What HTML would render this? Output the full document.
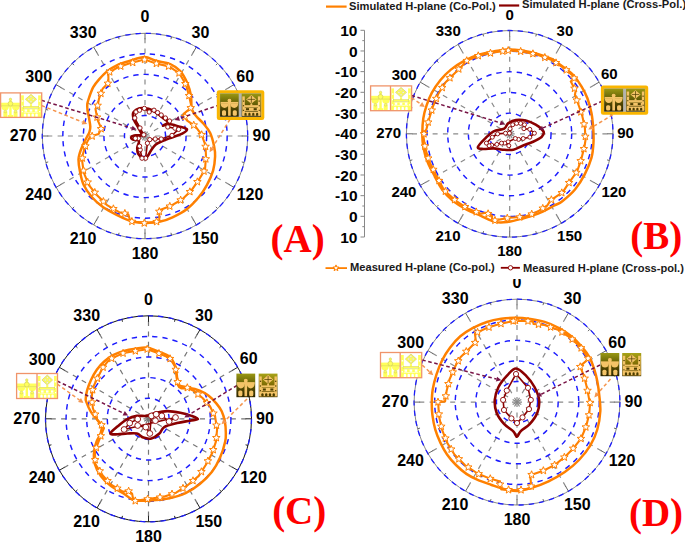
<!DOCTYPE html><html><head><meta charset="utf-8"><style>html,body{margin:0;padding:0;background:#fff;}svg{display:block;}</style></head><body>
<svg width="685" height="542" viewBox="0 0 685 542" font-family='"Liberation Sans", sans-serif' font-weight="bold">
<rect width="685" height="542" fill="#fff"/>
<line x1="145" y1="136" x2="145" y2="33.3" stroke="#8a8a8a" stroke-width="1.2" stroke-dasharray="5 5.3"/>
<line x1="145" y1="136" x2="196.35" y2="47.06" stroke="#8a8a8a" stroke-width="1.2" stroke-dasharray="5 5.3"/>
<line x1="145" y1="136" x2="233.94" y2="84.65" stroke="#8a8a8a" stroke-width="1.2" stroke-dasharray="5 5.3"/>
<line x1="145" y1="136" x2="247.7" y2="136" stroke="#8a8a8a" stroke-width="1.2" stroke-dasharray="5 5.3"/>
<line x1="145" y1="136" x2="233.94" y2="187.35" stroke="#8a8a8a" stroke-width="1.2" stroke-dasharray="5 5.3"/>
<line x1="145" y1="136" x2="196.35" y2="224.94" stroke="#8a8a8a" stroke-width="1.2" stroke-dasharray="5 5.3"/>
<line x1="145" y1="136" x2="145" y2="238.7" stroke="#8a8a8a" stroke-width="1.2" stroke-dasharray="5 5.3"/>
<line x1="145" y1="136" x2="93.65" y2="224.94" stroke="#8a8a8a" stroke-width="1.2" stroke-dasharray="5 5.3"/>
<line x1="145" y1="136" x2="56.06" y2="187.35" stroke="#8a8a8a" stroke-width="1.2" stroke-dasharray="5 5.3"/>
<line x1="145" y1="136" x2="42.3" y2="136" stroke="#8a8a8a" stroke-width="1.2" stroke-dasharray="5 5.3"/>
<line x1="145" y1="136" x2="56.06" y2="84.65" stroke="#8a8a8a" stroke-width="1.2" stroke-dasharray="5 5.3"/>
<line x1="145" y1="136" x2="93.65" y2="47.06" stroke="#8a8a8a" stroke-width="1.2" stroke-dasharray="5 5.3"/>
<circle cx="145" cy="136" r="20.54" fill="none" stroke="#1c1cff" stroke-width="1.45" stroke-dasharray="5.3 5"/>
<circle cx="145" cy="136" r="41.08" fill="none" stroke="#1c1cff" stroke-width="1.45" stroke-dasharray="5.3 5"/>
<circle cx="145" cy="136" r="61.62" fill="none" stroke="#1c1cff" stroke-width="1.45" stroke-dasharray="5.3 5"/>
<circle cx="145" cy="136" r="82.16" fill="none" stroke="#1c1cff" stroke-width="1.45" stroke-dasharray="5.3 5"/>
<circle cx="145" cy="136" r="102.7" fill="none" stroke="#888" stroke-width="1"/>
<circle cx="145" cy="136" r="102.7" fill="none" stroke="#1c1cff" stroke-width="1.3" stroke-dasharray="5.3 5"/>
<line x1="145" y1="33.3" x2="145" y2="39.3" stroke="#666" stroke-width="1"/>
<line x1="171.58" y1="36.8" x2="170.93" y2="39.21" stroke="#666" stroke-width="1"/>
<line x1="196.35" y1="47.06" x2="193.35" y2="52.26" stroke="#666" stroke-width="1"/>
<line x1="217.62" y1="63.38" x2="215.85" y2="65.15" stroke="#666" stroke-width="1"/>
<line x1="233.94" y1="84.65" x2="228.74" y2="87.65" stroke="#666" stroke-width="1"/>
<line x1="244.2" y1="109.42" x2="241.79" y2="110.07" stroke="#666" stroke-width="1"/>
<line x1="247.7" y1="136" x2="241.7" y2="136" stroke="#666" stroke-width="1"/>
<line x1="244.2" y1="162.58" x2="241.79" y2="161.93" stroke="#666" stroke-width="1"/>
<line x1="233.94" y1="187.35" x2="228.74" y2="184.35" stroke="#666" stroke-width="1"/>
<line x1="217.62" y1="208.62" x2="215.85" y2="206.85" stroke="#666" stroke-width="1"/>
<line x1="196.35" y1="224.94" x2="193.35" y2="219.74" stroke="#666" stroke-width="1"/>
<line x1="171.58" y1="235.2" x2="170.93" y2="232.79" stroke="#666" stroke-width="1"/>
<line x1="145" y1="238.7" x2="145" y2="232.7" stroke="#666" stroke-width="1"/>
<line x1="118.42" y1="235.2" x2="119.07" y2="232.79" stroke="#666" stroke-width="1"/>
<line x1="93.65" y1="224.94" x2="96.65" y2="219.74" stroke="#666" stroke-width="1"/>
<line x1="72.38" y1="208.62" x2="74.15" y2="206.85" stroke="#666" stroke-width="1"/>
<line x1="56.06" y1="187.35" x2="61.26" y2="184.35" stroke="#666" stroke-width="1"/>
<line x1="45.8" y1="162.58" x2="48.21" y2="161.93" stroke="#666" stroke-width="1"/>
<line x1="42.3" y1="136" x2="48.3" y2="136" stroke="#666" stroke-width="1"/>
<line x1="45.8" y1="109.42" x2="48.21" y2="110.07" stroke="#666" stroke-width="1"/>
<line x1="56.06" y1="84.65" x2="61.26" y2="87.65" stroke="#666" stroke-width="1"/>
<line x1="72.38" y1="63.38" x2="74.15" y2="65.15" stroke="#666" stroke-width="1"/>
<line x1="93.65" y1="47.06" x2="96.65" y2="52.26" stroke="#666" stroke-width="1"/>
<line x1="118.42" y1="36.8" x2="119.07" y2="39.21" stroke="#666" stroke-width="1"/>
<path d="M144.5,57 C148.95,56.97 151.83,59.62 156.11,60.79 C160.4,61.97 166.17,62.34 170.2,64.07 C174.24,65.79 177.46,67.93 180.31,71.13 C183.17,74.33 185.55,79.22 187.32,83.27 C189.1,87.31 190.27,91.71 190.95,95.4 C191.63,99.09 191.18,102.88 191.4,105.4 C191.62,107.92 191.45,108.65 192.3,110.5 C193.15,112.35 194.58,114.25 196.5,116.5 C198.42,118.75 201.52,121.25 203.8,124 C206.08,126.75 208.48,129.3 210.2,133 C211.92,136.7 213.28,142.3 214.1,146.2 C214.92,150.1 215.27,152.33 215.1,156.4 C214.93,160.47 214.45,165.87 213.1,170.6 C211.75,175.33 209.37,180.4 207,184.8 C204.63,189.2 202.28,192.93 198.9,197 C195.52,201.07 191.1,205.82 186.7,209.2 C182.3,212.58 176.9,215.23 172.5,217.3 C168.1,219.37 164.88,220.68 160.3,221.6 C155.72,222.52 149.83,222.85 145,222.8 C140.17,222.75 135.95,222.57 131.3,221.3 C126.65,220.03 121.83,217.57 117.1,215.2 C112.37,212.83 107.12,210.13 102.9,207.1 C98.68,204.07 95.02,200.72 91.8,197 C88.58,193.28 85.6,189.2 83.6,184.8 C81.6,180.4 80.65,174.77 79.8,170.6 C78.95,166.43 78.52,162.68 78.5,159.8 C78.48,156.92 79.12,155.45 79.7,153.3 C80.28,151.15 81.17,148.9 82,146.9 C82.83,144.9 83.87,143 84.7,141.3 C85.53,139.6 86.22,138.23 87,136.7 C87.78,135.17 88.85,133.78 89.4,132.1 C89.95,130.42 90.38,129.05 90.3,126.6 C90.22,124.15 89.37,120.17 88.9,117.4 C88.43,114.63 87.77,112.23 87.5,110 C87.23,107.77 87.02,106.11 87.3,104 C87.58,101.89 88.2,100.14 89.19,97.34 C90.18,94.54 91.56,90.24 93.24,87.21 C94.92,84.18 96.93,81.85 99.28,79.17 C101.62,76.49 104.29,73.47 107.3,71.12 C110.31,68.77 113.63,66.75 117.32,65.06 C121,63.37 124.89,62.33 129.42,60.99 C133.95,59.64 140.06,57.03 144.5,57Z" fill="none" stroke="#ff8000" stroke-width="2.5" stroke-linejoin="round"/>
<path d="M144.52,59.6 L155.62,63.37 L169.15,66.46 L179.35,73.28 L186.07,85.02 L189.26,96.73 L191.2,105.4 L190.7,108.1 L183.6,113.9 L186.8,120.4 L195.2,126.2 L201.6,134.6 L205.5,145.5 L206,156.4 L205,169.6 L198.9,179.7 L191.8,189.9 L182.6,199 L170.4,206.1 L159.3,210.2 L159.3,221.3 L146,223.4 L130.3,221.3 L128.3,214.2 L119.2,212.2 L107,205.1 L96.8,195 L88.7,184.8 L83.8,172.6 L82,159.8 L82.9,154.2 L84.7,147.8 L87,142.3 L89.8,137.2 L93,135.8 L98.6,134 L101.3,128.4 L97.6,120.1 L96.7,115.5 L95.5,109 L97.68,105.41 L98.93,98.93 L102.64,88.74 L108.47,82.84 L108.31,72.85 L117.95,67.22 L129.83,63.35Z" fill="none" stroke="#ff8000" stroke-width="2.1" stroke-linejoin="round"/>
<polygon points="144.52,55.6 145.53,58.21 148.32,58.36 146.15,60.13 146.87,62.84 144.52,61.32 142.17,62.84 142.88,60.13 140.71,58.36 143.51,58.21" fill="#fff" stroke="#ff8000" stroke-width="1"/>
<polygon points="156.37,59.54 157.38,62.15 160.18,62.31 158.01,64.08 158.73,66.78 156.37,65.26 154.02,66.78 154.74,64.08 152.57,62.31 155.36,62.15" fill="#fff" stroke="#ff8000" stroke-width="1"/>
<polygon points="168.56,62.32 169.57,64.93 172.37,65.09 170.2,66.85 170.91,69.56 168.56,68.04 166.21,69.56 166.93,66.85 164.76,65.09 167.55,64.93" fill="#fff" stroke="#ff8000" stroke-width="1"/>
<polygon points="179.04,69.07 180.05,71.68 182.84,71.83 180.67,73.6 181.39,76.31 179.04,74.79 176.69,76.31 177.4,73.6 175.23,71.83 178.03,71.68" fill="#fff" stroke="#ff8000" stroke-width="1"/>
<polygon points="185.37,79.8 186.38,82.41 189.17,82.57 187.01,84.34 187.72,87.04 185.37,85.52 183.02,87.04 183.73,84.34 181.57,82.57 184.36,82.41" fill="#fff" stroke="#ff8000" stroke-width="1"/>
<polygon points="188.98,91.73 189.99,94.34 192.79,94.49 190.62,96.26 191.33,98.96 188.98,97.45 186.63,98.96 187.35,96.26 185.18,94.49 187.97,94.34" fill="#fff" stroke="#ff8000" stroke-width="1"/>
<polygon points="190.73,103.93 191.74,106.54 194.54,106.7 192.37,108.47 193.08,111.17 190.73,109.65 188.38,111.17 189.09,108.47 186.93,106.7 189.72,106.54" fill="#fff" stroke="#ff8000" stroke-width="1"/>
<polygon points="185,112.74 186.01,115.35 188.8,115.5 186.63,117.27 187.35,119.97 185,118.46 182.65,119.97 183.36,117.27 181.19,115.5 183.99,115.35" fill="#fff" stroke="#ff8000" stroke-width="1"/>
<polygon points="193.73,121.18 194.74,123.79 197.53,123.95 195.36,125.71 196.08,128.42 193.73,126.9 191.38,128.42 192.09,125.71 189.92,123.95 192.72,123.79" fill="#fff" stroke="#ff8000" stroke-width="1"/>
<polygon points="201.65,130.74 202.66,133.35 205.45,133.51 203.29,135.27 204,137.98 201.65,136.46 199.3,137.98 200.01,135.27 197.85,133.51 200.64,133.35" fill="#fff" stroke="#ff8000" stroke-width="1"/>
<polygon points="205.55,142.57 206.56,145.18 209.35,145.34 207.18,147.1 207.9,149.81 205.55,148.29 203.2,149.81 203.91,147.1 201.74,145.34 204.54,145.18" fill="#fff" stroke="#ff8000" stroke-width="1"/>
<polygon points="205.8,155.05 206.81,157.66 209.6,157.82 207.43,159.59 208.15,162.29 205.8,160.77 203.45,162.29 204.16,159.59 201.99,157.82 204.79,157.66" fill="#fff" stroke="#ff8000" stroke-width="1"/>
<polygon points="204.01,167.25 205.02,169.86 207.81,170.01 205.64,171.78 206.36,174.48 204.01,172.97 201.65,174.48 202.37,171.78 200.2,170.01 202.99,169.86" fill="#fff" stroke="#ff8000" stroke-width="1"/>
<polygon points="197.4,177.85 198.41,180.46 201.2,180.62 199.04,182.39 199.75,185.09 197.4,183.57 195.05,185.09 195.76,182.39 193.6,180.62 196.39,180.46" fill="#fff" stroke="#ff8000" stroke-width="1"/>
<polygon points="189.88,187.8 190.89,190.41 193.69,190.56 191.52,192.33 192.23,195.03 189.88,193.52 187.53,195.03 188.25,192.33 186.08,190.56 188.87,190.41" fill="#fff" stroke="#ff8000" stroke-width="1"/>
<polygon points="180.65,196.14 181.66,198.74 184.45,198.9 182.29,200.67 183,203.37 180.65,201.86 178.3,203.37 179.01,200.67 176.85,198.9 179.64,198.74" fill="#fff" stroke="#ff8000" stroke-width="1"/>
<polygon points="169.8,202.32 170.81,204.93 173.6,205.09 171.43,206.85 172.15,209.56 169.8,208.04 167.45,209.56 168.16,206.85 165.99,205.09 168.79,204.93" fill="#fff" stroke="#ff8000" stroke-width="1"/>
<polygon points="159.3,207.51 160.31,210.12 163.1,210.27 160.94,212.04 161.65,214.74 159.3,213.23 156.95,214.74 157.66,212.04 155.5,210.27 158.29,210.12" fill="#fff" stroke="#ff8000" stroke-width="1"/>
<polygon points="156.63,217.72 157.64,220.33 160.43,220.49 158.26,222.25 158.98,224.96 156.63,223.44 154.27,224.96 154.99,222.25 152.82,220.49 155.61,220.33" fill="#fff" stroke="#ff8000" stroke-width="1"/>
<polygon points="144.27,219.17 145.28,221.78 148.08,221.93 145.91,223.7 146.62,226.4 144.27,224.89 141.92,226.4 142.64,223.7 140.47,221.93 143.26,221.78" fill="#fff" stroke="#ff8000" stroke-width="1"/>
<polygon points="131.88,217.51 132.89,220.12 135.69,220.28 133.52,222.04 134.23,224.75 131.88,223.23 129.53,224.75 130.25,222.04 128.08,220.28 130.87,220.12" fill="#fff" stroke="#ff8000" stroke-width="1"/>
<polygon points="124.86,209.44 125.87,212.05 128.66,212.21 126.49,213.97 127.21,216.68 124.86,215.16 122.5,216.68 123.22,213.97 121.05,212.21 123.84,212.05" fill="#fff" stroke="#ff8000" stroke-width="1"/>
<polygon points="113.4,204.82 114.41,207.43 117.2,207.59 115.04,209.36 115.75,212.06 113.4,210.54 111.05,212.06 111.76,209.36 109.6,207.59 112.39,207.43" fill="#fff" stroke="#ff8000" stroke-width="1"/>
<polygon points="103.38,197.52 104.39,200.12 107.18,200.28 105.02,202.05 105.73,204.75 103.38,203.24 101.03,204.75 101.74,202.05 99.58,200.28 102.37,200.12" fill="#fff" stroke="#ff8000" stroke-width="1"/>
<polygon points="94.79,188.46 95.8,191.07 98.59,191.23 96.42,192.99 97.14,195.7 94.79,194.18 92.43,195.7 93.15,192.99 90.98,191.23 93.77,191.07" fill="#fff" stroke="#ff8000" stroke-width="1"/>
<polygon points="87.69,178.28 88.7,180.89 91.49,181.04 89.32,182.81 90.04,185.52 87.69,184 85.34,185.52 86.05,182.81 83.88,181.04 86.68,180.89" fill="#fff" stroke="#ff8000" stroke-width="1"/>
<polygon points="83.51,166.55 84.52,169.16 87.32,169.32 85.15,171.08 85.86,173.79 83.51,172.27 81.16,173.79 81.88,171.08 79.71,169.32 82.5,169.16" fill="#fff" stroke="#ff8000" stroke-width="1"/>
<polygon points="82.26,154.18 83.27,156.79 86.06,156.94 83.9,158.71 84.61,161.42 82.26,159.9 79.91,161.42 80.62,158.71 78.46,156.94 81.25,156.79" fill="#fff" stroke="#ff8000" stroke-width="1"/>
<polygon points="85.4,142.12 86.41,144.73 89.21,144.88 87.04,146.65 87.75,149.36 85.4,147.84 83.05,149.36 83.77,146.65 81.6,144.88 84.39,144.73" fill="#fff" stroke="#ff8000" stroke-width="1"/>
<polygon points="92.13,132.18 93.14,134.79 95.93,134.95 93.76,136.71 94.48,139.42 92.13,137.9 89.78,139.42 90.49,136.71 88.32,134.95 91.12,134.79" fill="#fff" stroke="#ff8000" stroke-width="1"/>
<polygon points="101.06,124.9 102.07,127.5 104.87,127.66 102.7,129.43 103.41,132.13 101.06,130.62 98.71,132.13 99.43,129.43 97.26,127.66 100.05,127.5" fill="#fff" stroke="#ff8000" stroke-width="1"/>
<polygon points="97.05,113.29 98.06,115.9 100.85,116.05 98.69,117.82 99.4,120.53 97.05,119.01 94.7,120.53 95.41,117.82 93.25,116.05 96.04,115.9" fill="#fff" stroke="#ff8000" stroke-width="1"/>
<polygon points="97.61,101.53 98.62,104.14 101.42,104.29 99.25,106.06 99.96,108.76 97.61,107.25 95.26,108.76 95.98,106.06 93.81,104.29 96.6,104.14" fill="#fff" stroke="#ff8000" stroke-width="1"/>
<polygon points="100.9,89.51 101.91,92.12 104.7,92.28 102.53,94.04 103.25,96.75 100.9,95.23 98.55,96.75 99.26,94.04 97.09,92.28 99.89,92.12" fill="#fff" stroke="#ff8000" stroke-width="1"/>
<polygon points="107.86,79.47 108.87,82.07 111.66,82.23 109.49,84 110.21,86.7 107.86,85.19 105.5,86.7 106.22,84 104.05,82.23 106.84,82.07" fill="#fff" stroke="#ff8000" stroke-width="1"/>
<polygon points="109.71,68.03 110.72,70.64 113.52,70.79 111.35,72.56 112.06,75.26 109.71,73.75 107.36,75.26 108.08,72.56 105.91,70.79 108.7,70.64" fill="#fff" stroke="#ff8000" stroke-width="1"/>
<polygon points="120.77,62.3 121.78,64.91 124.57,65.07 122.4,66.83 123.12,69.54 120.77,68.02 118.41,69.54 119.13,66.83 116.96,65.07 119.75,64.91" fill="#fff" stroke="#ff8000" stroke-width="1"/>
<polygon points="132.7,58.61 133.71,61.22 136.51,61.38 134.34,63.14 135.05,65.85 132.7,64.33 130.35,65.85 131.07,63.14 128.9,61.38 131.69,61.22" fill="#fff" stroke="#ff8000" stroke-width="1"/>
<path d="M133.6,112 C134.6,110.8 137.1,109 139,108.4 C140.9,107.8 143,108.2 145,108.4 C147,108.6 149,108.8 151,109.6 C153,110.4 155,111.8 157,113.2 C159,114.6 161.2,116.5 163,118 C164.8,119.5 167.8,120.9 167.8,122.2 C167.8,123.5 162.8,125.5 163,125.8 C163.2,126.1 166.4,123.9 169,124 C171.6,124.1 175.6,125.5 178.6,126.4 C181.6,127.3 186.4,128.2 187,129.4 C187.6,130.6 184.6,132.3 182.2,133.6 C179.8,134.9 175.8,136 172.6,137.2 C169.4,138.4 165.8,139.6 163,140.8 C160.2,142 157.8,142.8 155.8,144.4 C153.8,146 152.4,148.4 151,150.4 C149.6,152.4 148.8,155.2 147.4,156.4 C146,157.6 144.1,158 142.6,157.6 C141.1,157.2 139.3,155.6 138.4,154 C137.5,152.4 137.1,150.2 137.2,148 C137.3,145.8 139.7,142.2 139,140.8 C138.3,139.4 134.3,140.2 133,139.6 C131.7,139 131,137.9 131.2,137.2 C131.4,136.5 132.5,135.8 134.2,135.4 C135.9,135 140.6,135.9 141.4,134.8 C142.2,133.7 140.2,131.2 139,128.8 C137.8,126.4 135.2,122.6 134.2,120.4 C133.2,118.2 133.1,117 133,115.6 C132.9,114.2 132.6,113.2 133.6,112Z" fill="none" stroke="#8a0000" stroke-width="2.6" stroke-linejoin="round"/>
<path d="M134.8,118 L136,112 L139.6,110.2 L144.4,108.4 L149.2,112 L154,110.2 L157.6,112.6 L161.2,115 L165.4,118 L169.6,121 L167.8,127 L175,128.2 L178.6,129.4 L172,135.4 L161.2,139 L155.2,139 L149.8,139.6 L147.4,143.2 L145.6,158.2 L142,158.2 L140.2,149.8 L139.6,146.2 L138.4,138.4 L135.4,138.4 L143.8,134.8 L140,128Z" fill="none" stroke="#8a0000" stroke-width="1.6"/>
<circle cx="134.8" cy="118" r="2.15" fill="#fff" stroke="#8a0000" stroke-width="0.9"/>
<circle cx="136" cy="112" r="2.15" fill="#fff" stroke="#8a0000" stroke-width="0.9"/>
<circle cx="139.6" cy="110.2" r="2.15" fill="#fff" stroke="#8a0000" stroke-width="0.9"/>
<circle cx="144.4" cy="108.4" r="2.15" fill="#fff" stroke="#8a0000" stroke-width="0.9"/>
<circle cx="149.2" cy="112" r="2.15" fill="#fff" stroke="#8a0000" stroke-width="0.9"/>
<circle cx="154" cy="110.2" r="2.15" fill="#fff" stroke="#8a0000" stroke-width="0.9"/>
<circle cx="157.6" cy="112.6" r="2.15" fill="#fff" stroke="#8a0000" stroke-width="0.9"/>
<circle cx="161.2" cy="115" r="2.15" fill="#fff" stroke="#8a0000" stroke-width="0.9"/>
<circle cx="165.4" cy="118" r="2.15" fill="#fff" stroke="#8a0000" stroke-width="0.9"/>
<circle cx="169.6" cy="121" r="2.15" fill="#fff" stroke="#8a0000" stroke-width="0.9"/>
<circle cx="167.8" cy="127" r="2.15" fill="#fff" stroke="#8a0000" stroke-width="0.9"/>
<circle cx="175" cy="128.2" r="2.15" fill="#fff" stroke="#8a0000" stroke-width="0.9"/>
<circle cx="178.6" cy="129.4" r="2.15" fill="#fff" stroke="#8a0000" stroke-width="0.9"/>
<circle cx="172" cy="135.4" r="2.15" fill="#fff" stroke="#8a0000" stroke-width="0.9"/>
<circle cx="161.2" cy="139" r="2.15" fill="#fff" stroke="#8a0000" stroke-width="0.9"/>
<circle cx="155.2" cy="139" r="2.15" fill="#fff" stroke="#8a0000" stroke-width="0.9"/>
<circle cx="149.8" cy="139.6" r="2.15" fill="#fff" stroke="#8a0000" stroke-width="0.9"/>
<circle cx="147.4" cy="143.2" r="2.15" fill="#fff" stroke="#8a0000" stroke-width="0.9"/>
<circle cx="145.6" cy="158.2" r="2.15" fill="#fff" stroke="#8a0000" stroke-width="0.9"/>
<circle cx="142" cy="158.2" r="2.15" fill="#fff" stroke="#8a0000" stroke-width="0.9"/>
<circle cx="140.2" cy="149.8" r="2.15" fill="#fff" stroke="#8a0000" stroke-width="0.9"/>
<circle cx="139.6" cy="146.2" r="2.15" fill="#fff" stroke="#8a0000" stroke-width="0.9"/>
<circle cx="138.4" cy="138.4" r="2.15" fill="#fff" stroke="#8a0000" stroke-width="0.9"/>
<circle cx="135.4" cy="138.4" r="2.15" fill="#fff" stroke="#8a0000" stroke-width="0.9"/>
<circle cx="143.8" cy="134.8" r="2.15" fill="#fff" stroke="#8a0000" stroke-width="0.9"/>
<circle cx="140" cy="128" r="2.15" fill="#fff" stroke="#8a0000" stroke-width="0.9"/>
<line x1="509.7" y1="133.8" x2="509.7" y2="30.5" stroke="#8a8a8a" stroke-width="1.2" stroke-dasharray="5 5.3"/>
<line x1="509.7" y1="133.8" x2="561.35" y2="44.34" stroke="#8a8a8a" stroke-width="1.2" stroke-dasharray="5 5.3"/>
<line x1="509.7" y1="133.8" x2="599.16" y2="82.15" stroke="#8a8a8a" stroke-width="1.2" stroke-dasharray="5 5.3"/>
<line x1="509.7" y1="133.8" x2="613" y2="133.8" stroke="#8a8a8a" stroke-width="1.2" stroke-dasharray="5 5.3"/>
<line x1="509.7" y1="133.8" x2="599.16" y2="185.45" stroke="#8a8a8a" stroke-width="1.2" stroke-dasharray="5 5.3"/>
<line x1="509.7" y1="133.8" x2="561.35" y2="223.26" stroke="#8a8a8a" stroke-width="1.2" stroke-dasharray="5 5.3"/>
<line x1="509.7" y1="133.8" x2="509.7" y2="237.1" stroke="#8a8a8a" stroke-width="1.2" stroke-dasharray="5 5.3"/>
<line x1="509.7" y1="133.8" x2="458.05" y2="223.26" stroke="#8a8a8a" stroke-width="1.2" stroke-dasharray="5 5.3"/>
<line x1="509.7" y1="133.8" x2="420.24" y2="185.45" stroke="#8a8a8a" stroke-width="1.2" stroke-dasharray="5 5.3"/>
<line x1="509.7" y1="133.8" x2="406.4" y2="133.8" stroke="#8a8a8a" stroke-width="1.2" stroke-dasharray="5 5.3"/>
<line x1="509.7" y1="133.8" x2="420.24" y2="82.15" stroke="#8a8a8a" stroke-width="1.2" stroke-dasharray="5 5.3"/>
<line x1="509.7" y1="133.8" x2="458.05" y2="44.34" stroke="#8a8a8a" stroke-width="1.2" stroke-dasharray="5 5.3"/>
<circle cx="509.7" cy="133.8" r="20.66" fill="none" stroke="#1c1cff" stroke-width="1.45" stroke-dasharray="5.3 5"/>
<circle cx="509.7" cy="133.8" r="41.32" fill="none" stroke="#1c1cff" stroke-width="1.45" stroke-dasharray="5.3 5"/>
<circle cx="509.7" cy="133.8" r="61.98" fill="none" stroke="#1c1cff" stroke-width="1.45" stroke-dasharray="5.3 5"/>
<circle cx="509.7" cy="133.8" r="82.64" fill="none" stroke="#1c1cff" stroke-width="1.45" stroke-dasharray="5.3 5"/>
<circle cx="509.7" cy="133.8" r="103.3" fill="none" stroke="#888" stroke-width="1"/>
<circle cx="509.7" cy="133.8" r="103.3" fill="none" stroke="#1c1cff" stroke-width="1.3" stroke-dasharray="5.3 5"/>
<line x1="509.7" y1="30.5" x2="509.7" y2="36.5" stroke="#666" stroke-width="1"/>
<line x1="536.44" y1="34.02" x2="535.79" y2="36.43" stroke="#666" stroke-width="1"/>
<line x1="561.35" y1="44.34" x2="558.35" y2="49.54" stroke="#666" stroke-width="1"/>
<line x1="582.74" y1="60.76" x2="580.98" y2="62.52" stroke="#666" stroke-width="1"/>
<line x1="599.16" y1="82.15" x2="593.96" y2="85.15" stroke="#666" stroke-width="1"/>
<line x1="609.48" y1="107.06" x2="607.07" y2="107.71" stroke="#666" stroke-width="1"/>
<line x1="613" y1="133.8" x2="607" y2="133.8" stroke="#666" stroke-width="1"/>
<line x1="609.48" y1="160.54" x2="607.07" y2="159.89" stroke="#666" stroke-width="1"/>
<line x1="599.16" y1="185.45" x2="593.96" y2="182.45" stroke="#666" stroke-width="1"/>
<line x1="582.74" y1="206.84" x2="580.98" y2="205.08" stroke="#666" stroke-width="1"/>
<line x1="561.35" y1="223.26" x2="558.35" y2="218.06" stroke="#666" stroke-width="1"/>
<line x1="536.44" y1="233.58" x2="535.79" y2="231.17" stroke="#666" stroke-width="1"/>
<line x1="509.7" y1="237.1" x2="509.7" y2="231.1" stroke="#666" stroke-width="1"/>
<line x1="482.96" y1="233.58" x2="483.61" y2="231.17" stroke="#666" stroke-width="1"/>
<line x1="458.05" y1="223.26" x2="461.05" y2="218.06" stroke="#666" stroke-width="1"/>
<line x1="436.66" y1="206.84" x2="438.42" y2="205.08" stroke="#666" stroke-width="1"/>
<line x1="420.24" y1="185.45" x2="425.44" y2="182.45" stroke="#666" stroke-width="1"/>
<line x1="409.92" y1="160.54" x2="412.33" y2="159.89" stroke="#666" stroke-width="1"/>
<line x1="406.4" y1="133.8" x2="412.4" y2="133.8" stroke="#666" stroke-width="1"/>
<line x1="409.92" y1="107.06" x2="412.33" y2="107.71" stroke="#666" stroke-width="1"/>
<line x1="420.24" y1="82.15" x2="425.44" y2="85.15" stroke="#666" stroke-width="1"/>
<line x1="436.66" y1="60.76" x2="438.42" y2="62.52" stroke="#666" stroke-width="1"/>
<line x1="458.05" y1="44.34" x2="461.05" y2="49.54" stroke="#666" stroke-width="1"/>
<line x1="482.96" y1="34.02" x2="483.61" y2="36.43" stroke="#666" stroke-width="1"/>
<path d="M508.2,49.4 C512.97,49.23 517.23,49.8 522,50.5 C526.77,51.2 531.85,52.18 536.8,53.6 C541.75,55.02 548.33,57.52 551.7,59 C555.07,60.48 554.78,60.95 557,62.5 C559.22,64.05 562.28,66.22 565,68.3 C567.72,70.38 570.53,71.95 573.3,75 C576.07,78.05 579.25,82.73 581.6,86.6 C583.95,90.47 585.75,93.77 587.4,98.2 C589.05,102.63 590.53,108.22 591.5,113.2 C592.47,118.18 592.87,123.3 593.2,128.1 C593.53,132.9 593.78,137.07 593.5,142 C593.22,146.93 592.98,152.25 591.5,157.7 C590.02,163.15 587.35,169.4 584.6,174.7 C581.85,180 578.72,185.08 575,189.5 C571.28,193.92 565.73,198.53 562.3,201.2 C558.87,203.87 558.43,203.42 554.4,205.5 C550.37,207.58 543.55,211.48 538.1,213.7 C532.65,215.92 526.82,217.42 521.7,218.8 C516.58,220.18 511.82,221.48 507.4,222 C502.98,222.52 499.62,222.93 495.2,221.9 C490.78,220.87 485.67,217.85 480.9,215.8 C476.13,213.75 471.37,212.17 466.6,209.6 C461.83,207.03 456.43,203.83 452.3,200.4 C448.17,196.97 444.68,192.93 441.8,189 C438.92,185.07 437.37,181.3 435,176.8 C432.63,172.3 429.55,166.95 427.6,162 C425.65,157.05 424.18,151.9 423.3,147.1 C422.42,142.3 422.3,137.98 422.3,133.2 C422.3,128.42 422.6,123 423.3,118.4 C424,113.8 425.08,109.85 426.5,105.6 C427.92,101.35 429.5,97.13 431.8,92.9 C434.1,88.67 437.12,84.08 440.3,80.2 C443.48,76.32 447,72.78 450.9,69.6 C454.8,66.42 459.1,63.58 463.7,61.1 C468.3,58.62 473.55,56.3 478.5,54.7 C483.45,53.1 488.45,52.38 493.4,51.5 C498.35,50.62 503.43,49.57 508.2,49.4Z" fill="none" stroke="#ff8000" stroke-width="2.5" stroke-linejoin="round"/>
<path d="M508.2,50.5 L522,51.5 L536.8,54.6 L551.7,60 L564.4,68.4 L574.9,77.4 L570.8,81.6 L575.7,90.7 L574.9,94.9 L579.1,106.5 L582.4,116.5 L584.9,128.1 L585.5,140 L584.6,146 L581.4,158.8 L577.1,171.5 L568.7,183.2 L562.6,192.3 L550.4,200.4 L547.3,205.5 L539.1,210.7 L533,213.7 L524.8,216.8 L509.5,217.8 L492.1,220.9 L492.1,215.8 L486,212.7 L480.9,213.7 L467.6,208.6 L455.3,200.4 L444.1,190.2 L436,175 L429,161 L425,147 L423.3,135.3 L426.5,129 L428.6,120.5 L432.9,106.7 L438.2,94 L445.6,82.3 L455.2,72.7 L463.7,64.3 L463.7,62 L478.5,55.7 L493.4,52.5Z" fill="none" stroke="#ff8000" stroke-width="2.1" stroke-linejoin="round"/>
<polygon points="508.2,46.5 509.21,49.11 512,49.26 509.84,51.03 510.55,53.74 508.2,52.22 505.85,53.74 506.56,51.03 504.4,49.26 507.19,49.11" fill="#fff" stroke="#ff8000" stroke-width="1"/>
<polygon points="520.67,47.4 521.68,50.01 524.47,50.17 522.3,51.93 523.02,54.64 520.67,53.12 518.32,54.64 519.03,51.93 516.86,50.17 519.66,50.01" fill="#fff" stroke="#ff8000" stroke-width="1"/>
<polygon points="532.93,49.79 533.94,52.4 536.73,52.55 534.56,54.32 535.28,57.02 532.93,55.51 530.58,57.02 531.29,54.32 529.12,52.55 531.92,52.4" fill="#fff" stroke="#ff8000" stroke-width="1"/>
<polygon points="544.83,53.51 545.84,56.12 548.64,56.27 546.47,58.04 547.18,60.75 544.83,59.23 542.48,60.75 543.2,58.04 541.03,56.27 543.82,56.12" fill="#fff" stroke="#ff8000" stroke-width="1"/>
<polygon points="556.03,58.87 557.04,61.47 559.84,61.63 557.67,63.4 558.38,66.1 556.03,64.59 553.68,66.1 554.4,63.4 552.23,61.63 555.02,61.47" fill="#fff" stroke="#ff8000" stroke-width="1"/>
<polygon points="566.27,66.01 567.28,68.61 570.08,68.77 567.91,70.54 568.62,73.24 566.27,71.73 563.92,73.24 564.64,70.54 562.47,68.77 565.26,68.61" fill="#fff" stroke="#ff8000" stroke-width="1"/>
<polygon points="574.1,74.21 575.12,76.82 577.91,76.98 575.74,78.75 576.46,81.45 574.1,79.93 571.75,81.45 572.47,78.75 570.3,76.98 573.09,76.82" fill="#fff" stroke="#ff8000" stroke-width="1"/>
<polygon points="574.48,84.44 575.49,87.05 578.29,87.2 576.12,88.97 576.83,91.68 574.48,90.16 572.13,91.68 572.85,88.97 570.68,87.2 573.47,87.05" fill="#fff" stroke="#ff8000" stroke-width="1"/>
<polygon points="576.83,96.22 577.84,98.83 580.63,98.98 578.46,100.75 579.18,103.46 576.83,101.94 574.48,103.46 575.19,100.75 573.02,98.98 575.82,98.83" fill="#fff" stroke="#ff8000" stroke-width="1"/>
<polygon points="580.92,108.03 581.94,110.64 584.73,110.79 582.56,112.56 583.28,115.26 580.92,113.75 578.57,115.26 579.29,112.56 577.12,110.79 579.91,110.64" fill="#fff" stroke="#ff8000" stroke-width="1"/>
<polygon points="584.04,120.12 585.05,122.72 587.85,122.88 585.68,124.65 586.39,127.35 584.04,125.84 581.69,127.35 582.41,124.65 580.24,122.88 583.03,122.72" fill="#fff" stroke="#ff8000" stroke-width="1"/>
<polygon points="585.32,132.51 586.34,135.12 589.13,135.28 586.96,137.05 587.68,139.75 585.32,138.23 582.97,139.75 583.69,137.05 581.52,135.28 584.31,135.12" fill="#fff" stroke="#ff8000" stroke-width="1"/>
<polygon points="583.89,144.85 584.9,147.46 587.69,147.62 585.52,149.39 586.24,152.09 583.89,150.57 581.54,152.09 582.25,149.39 580.08,147.62 582.88,147.46" fill="#fff" stroke="#ff8000" stroke-width="1"/>
<polygon points="580.68,156.93 581.69,159.54 584.48,159.69 582.31,161.46 583.03,164.17 580.68,162.65 578.33,164.17 579.04,161.46 576.87,159.69 579.67,159.54" fill="#fff" stroke="#ff8000" stroke-width="1"/>
<polygon points="576.32,168.59 577.33,171.2 580.12,171.35 577.95,173.12 578.67,175.82 576.32,174.31 573.97,175.82 574.68,173.12 572.51,171.35 575.31,171.2" fill="#fff" stroke="#ff8000" stroke-width="1"/>
<polygon points="569.03,178.74 570.04,181.35 572.83,181.51 570.66,183.27 571.38,185.98 569.03,184.46 566.68,185.98 567.39,183.27 565.22,181.51 568.02,181.35" fill="#fff" stroke="#ff8000" stroke-width="1"/>
<polygon points="561.78,188.84 562.79,191.45 565.59,191.61 563.42,193.37 564.13,196.08 561.78,194.56 559.43,196.08 560.15,193.37 557.98,191.61 560.77,191.45" fill="#fff" stroke="#ff8000" stroke-width="1"/>
<polygon points="551.37,195.76 552.38,198.37 555.17,198.52 553,200.29 553.72,202.99 551.37,201.48 549.02,202.99 549.73,200.29 547.56,198.52 550.36,198.37" fill="#fff" stroke="#ff8000" stroke-width="1"/>
<polygon points="542.77,204.38 543.78,206.98 546.57,207.14 544.4,208.91 545.12,211.61 542.77,210.1 540.41,211.61 541.13,208.91 538.96,207.14 541.75,206.98" fill="#fff" stroke="#ff8000" stroke-width="1"/>
<polygon points="531.73,210.18 532.74,212.79 535.53,212.95 533.36,214.71 534.08,217.42 531.73,215.9 529.38,217.42 530.09,214.71 527.92,212.95 530.72,212.79" fill="#fff" stroke="#ff8000" stroke-width="1"/>
<polygon points="519.72,213.13 520.73,215.74 523.52,215.9 521.35,217.66 522.07,220.37 519.72,218.85 517.36,220.37 518.08,217.66 515.91,215.9 518.7,215.74" fill="#fff" stroke="#ff8000" stroke-width="1"/>
<polygon points="507.27,214.2 508.28,216.81 511.08,216.96 508.91,218.73 509.62,221.43 507.27,219.92 504.92,221.43 505.64,218.73 503.47,216.96 506.26,216.81" fill="#fff" stroke="#ff8000" stroke-width="1"/>
<polygon points="494.97,216.39 495.98,219 498.77,219.15 496.6,220.92 497.32,223.63 494.97,222.11 492.62,223.63 493.33,220.92 491.16,219.15 493.96,219" fill="#fff" stroke="#ff8000" stroke-width="1"/>
<polygon points="488.1,209.77 489.11,212.37 491.9,212.53 489.73,214.3 490.45,217 488.1,215.49 485.75,217 486.46,214.3 484.29,212.53 487.09,212.37" fill="#fff" stroke="#ff8000" stroke-width="1"/>
<polygon points="476.28,207.93 477.29,210.54 480.08,210.69 477.92,212.46 478.63,215.16 476.28,213.65 473.93,215.16 474.64,212.46 472.47,210.69 475.27,210.54" fill="#fff" stroke="#ff8000" stroke-width="1"/>
<polygon points="464.93,202.82 465.94,205.43 468.74,205.59 466.57,207.35 467.28,210.06 464.93,208.54 462.58,210.06 463.3,207.35 461.13,205.59 463.92,205.43" fill="#fff" stroke="#ff8000" stroke-width="1"/>
<polygon points="454.62,195.78 455.63,198.39 458.42,198.54 456.25,200.31 456.97,203.02 454.62,201.5 452.27,203.02 452.98,200.31 450.81,198.54 453.61,198.39" fill="#fff" stroke="#ff8000" stroke-width="1"/>
<polygon points="445.38,187.36 446.39,189.97 449.18,190.13 447.01,191.89 447.73,194.6 445.38,193.08 443.03,194.6 443.74,191.89 441.57,190.13 444.37,189.97" fill="#fff" stroke="#ff8000" stroke-width="1"/>
<polygon points="439.03,176.69 440.04,179.3 442.84,179.46 440.67,181.22 441.38,183.93 439.03,182.41 436.68,183.93 437.4,181.22 435.23,179.46 438.02,179.3" fill="#fff" stroke="#ff8000" stroke-width="1"/>
<polygon points="433.29,165.59 434.31,168.2 437.1,168.35 434.93,170.12 435.65,172.83 433.29,171.31 430.94,172.83 431.66,170.12 429.49,168.35 432.28,168.2" fill="#fff" stroke="#ff8000" stroke-width="1"/>
<polygon points="428.2,154.21 429.22,156.82 432.01,156.98 429.84,158.75 430.56,161.45 428.2,159.93 425.85,161.45 426.57,158.75 424.4,156.98 427.19,156.82" fill="#fff" stroke="#ff8000" stroke-width="1"/>
<polygon points="424.88,142.17 425.89,144.78 428.68,144.94 426.52,146.7 427.23,149.41 424.88,147.89 422.53,149.41 423.24,146.7 421.08,144.94 423.87,144.78" fill="#fff" stroke="#ff8000" stroke-width="1"/>
<polygon points="423.99,129.95 425,132.56 427.79,132.71 425.62,134.48 426.34,137.19 423.99,135.67 421.63,137.19 422.35,134.48 420.18,132.71 422.97,132.56" fill="#fff" stroke="#ff8000" stroke-width="1"/>
<polygon points="428.17,118.25 429.18,120.86 431.97,121.02 429.8,122.79 430.52,125.49 428.17,123.97 425.82,125.49 426.53,122.79 424.36,121.02 427.16,120.86" fill="#fff" stroke="#ff8000" stroke-width="1"/>
<polygon points="431.78,106.29 432.79,108.9 435.59,109.06 433.42,110.82 434.13,113.53 431.78,112.01 429.43,113.53 430.15,110.82 427.98,109.06 430.77,108.9" fill="#fff" stroke="#ff8000" stroke-width="1"/>
<polygon points="436.27,94.64 437.28,97.24 440.07,97.4 437.9,99.17 438.62,101.87 436.27,100.36 433.91,101.87 434.63,99.17 432.46,97.4 435.25,97.24" fill="#fff" stroke="#ff8000" stroke-width="1"/>
<polygon points="442.2,83.68 443.21,86.29 446,86.45 443.83,88.21 444.55,90.92 442.2,89.4 439.85,90.92 440.56,88.21 438.39,86.45 441.19,86.29" fill="#fff" stroke="#ff8000" stroke-width="1"/>
<polygon points="449.94,73.96 450.95,76.57 453.74,76.73 451.57,78.5 452.29,81.2 449.94,79.68 447.59,81.2 448.3,78.5 446.13,76.73 448.93,76.57" fill="#fff" stroke="#ff8000" stroke-width="1"/>
<polygon points="458.8,65.15 459.81,67.75 462.6,67.91 460.43,69.68 461.15,72.38 458.8,70.87 456.45,72.38 457.16,69.68 454.99,67.91 457.79,67.75" fill="#fff" stroke="#ff8000" stroke-width="1"/>
<polygon points="466.74,56.71 467.75,59.31 470.55,59.47 468.38,61.24 469.09,63.94 466.74,62.43 464.39,63.94 465.11,61.24 462.94,59.47 465.73,59.31" fill="#fff" stroke="#ff8000" stroke-width="1"/>
<polygon points="478.24,51.81 479.25,54.42 482.05,54.57 479.88,56.34 480.59,59.05 478.24,57.53 475.89,59.05 476.61,56.34 474.44,54.57 477.23,54.42" fill="#fff" stroke="#ff8000" stroke-width="1"/>
<polygon points="490.45,49.13 491.46,51.74 494.25,51.9 492.08,53.67 492.8,56.37 490.45,54.85 488.1,56.37 488.81,53.67 486.64,51.9 489.44,51.74" fill="#fff" stroke="#ff8000" stroke-width="1"/>
<polygon points="502.8,47.23 503.81,49.84 506.6,49.99 504.43,51.76 505.15,54.47 502.8,52.95 500.44,54.47 501.16,51.76 498.99,49.99 501.78,49.84" fill="#fff" stroke="#ff8000" stroke-width="1"/>
<path d="M477.9,147 C478.35,145.13 483.18,140.42 485.8,137.8 C488.42,135.18 490.53,132.82 493.6,131.3 C496.67,129.78 501.78,130.02 504.2,128.7 C506.62,127.38 506.13,124.83 508.1,123.4 C510.07,121.97 512.93,120.53 516,120.1 C519.07,119.67 523.22,120.03 526.5,120.8 C529.78,121.57 533.2,123.33 535.7,124.7 C538.2,126.07 540.15,127.65 541.5,129 C542.85,130.35 543.78,131.47 543.8,132.8 C543.82,134.13 543.38,135.5 541.6,137 C539.82,138.5 536.27,140.35 533.1,141.8 C529.93,143.25 525.88,144.38 522.6,145.7 C519.32,147.02 516.7,149.03 513.4,149.7 C510.1,150.37 506.1,149.92 502.8,149.7 C499.5,149.48 496.88,148.52 493.6,148.4 C490.32,148.28 485.72,149.23 483.1,149 C480.48,148.77 477.45,148.87 477.9,147Z" fill="none" stroke="#8a0000" stroke-width="2.6" stroke-linejoin="round"/>
<path d="M509.4,133.2 L510.1,128.7 L512.7,124.7 L516.6,123.4 L520.6,123.4 L524.5,124.7 L523.9,128.7 L529.8,129.3 L534.4,133.2 L529.8,137.2 L523.2,138.5 L518.6,139.4 L515.3,138.5 L508.1,141.8 L508.8,145.7 L504.8,143.1 L501.5,143.1 L496.9,144.4 L491.7,145.1 L489.1,145.7 L486.4,143.1 L492.3,137.2 L497.6,133.9 L505.5,133.2Z" fill="none" stroke="#8a0000" stroke-width="1.6"/>
<circle cx="509.4" cy="133.2" r="2.0" fill="#fff" stroke="#8a0000" stroke-width="0.9"/>
<circle cx="510.1" cy="128.7" r="2.0" fill="#fff" stroke="#8a0000" stroke-width="0.9"/>
<circle cx="512.7" cy="124.7" r="2.0" fill="#fff" stroke="#8a0000" stroke-width="0.9"/>
<circle cx="516.6" cy="123.4" r="2.0" fill="#fff" stroke="#8a0000" stroke-width="0.9"/>
<circle cx="520.6" cy="123.4" r="2.0" fill="#fff" stroke="#8a0000" stroke-width="0.9"/>
<circle cx="524.5" cy="124.7" r="2.0" fill="#fff" stroke="#8a0000" stroke-width="0.9"/>
<circle cx="523.9" cy="128.7" r="2.0" fill="#fff" stroke="#8a0000" stroke-width="0.9"/>
<circle cx="529.8" cy="129.3" r="2.0" fill="#fff" stroke="#8a0000" stroke-width="0.9"/>
<circle cx="534.4" cy="133.2" r="2.0" fill="#fff" stroke="#8a0000" stroke-width="0.9"/>
<circle cx="529.8" cy="137.2" r="2.0" fill="#fff" stroke="#8a0000" stroke-width="0.9"/>
<circle cx="523.2" cy="138.5" r="2.0" fill="#fff" stroke="#8a0000" stroke-width="0.9"/>
<circle cx="518.6" cy="139.4" r="2.0" fill="#fff" stroke="#8a0000" stroke-width="0.9"/>
<circle cx="515.3" cy="138.5" r="2.0" fill="#fff" stroke="#8a0000" stroke-width="0.9"/>
<circle cx="508.1" cy="141.8" r="2.0" fill="#fff" stroke="#8a0000" stroke-width="0.9"/>
<circle cx="508.8" cy="145.7" r="2.0" fill="#fff" stroke="#8a0000" stroke-width="0.9"/>
<circle cx="504.8" cy="143.1" r="2.0" fill="#fff" stroke="#8a0000" stroke-width="0.9"/>
<circle cx="501.5" cy="143.1" r="2.0" fill="#fff" stroke="#8a0000" stroke-width="0.9"/>
<circle cx="496.9" cy="144.4" r="2.0" fill="#fff" stroke="#8a0000" stroke-width="0.9"/>
<circle cx="491.7" cy="145.1" r="2.0" fill="#fff" stroke="#8a0000" stroke-width="0.9"/>
<circle cx="489.1" cy="145.7" r="2.0" fill="#fff" stroke="#8a0000" stroke-width="0.9"/>
<circle cx="486.4" cy="143.1" r="2.0" fill="#fff" stroke="#8a0000" stroke-width="0.9"/>
<circle cx="492.3" cy="137.2" r="2.0" fill="#fff" stroke="#8a0000" stroke-width="0.9"/>
<circle cx="497.6" cy="133.9" r="2.0" fill="#fff" stroke="#8a0000" stroke-width="0.9"/>
<circle cx="505.5" cy="133.2" r="2.0" fill="#fff" stroke="#8a0000" stroke-width="0.9"/>
<line x1="148.5" y1="418.8" x2="148.5" y2="315.8" stroke="#777" stroke-width="1.2" stroke-dasharray="5 5.3"/>
<line x1="148.5" y1="418.8" x2="200" y2="329.6" stroke="#777" stroke-width="1.2" stroke-dasharray="5 5.3"/>
<line x1="148.5" y1="418.8" x2="237.7" y2="367.3" stroke="#777" stroke-width="1.2" stroke-dasharray="5 5.3"/>
<line x1="148.5" y1="418.8" x2="251.5" y2="418.8" stroke="#777" stroke-width="1.2" stroke-dasharray="5 5.3"/>
<line x1="148.5" y1="418.8" x2="237.7" y2="470.3" stroke="#777" stroke-width="1.2" stroke-dasharray="5 5.3"/>
<line x1="148.5" y1="418.8" x2="200" y2="508" stroke="#777" stroke-width="1.2" stroke-dasharray="5 5.3"/>
<line x1="148.5" y1="418.8" x2="148.5" y2="521.8" stroke="#777" stroke-width="1.2" stroke-dasharray="5 5.3"/>
<line x1="148.5" y1="418.8" x2="97" y2="508" stroke="#777" stroke-width="1.2" stroke-dasharray="5 5.3"/>
<line x1="148.5" y1="418.8" x2="59.3" y2="470.3" stroke="#777" stroke-width="1.2" stroke-dasharray="5 5.3"/>
<line x1="148.5" y1="418.8" x2="45.5" y2="418.8" stroke="#777" stroke-width="1.2" stroke-dasharray="5 5.3"/>
<line x1="148.5" y1="418.8" x2="59.3" y2="367.3" stroke="#777" stroke-width="1.2" stroke-dasharray="5 5.3"/>
<line x1="148.5" y1="418.8" x2="97" y2="329.6" stroke="#777" stroke-width="1.2" stroke-dasharray="5 5.3"/>
<circle cx="148.5" cy="418.8" r="20.6" fill="none" stroke="#1c1cff" stroke-width="1.45" stroke-dasharray="5.3 5"/>
<circle cx="148.5" cy="418.8" r="41.2" fill="none" stroke="#1c1cff" stroke-width="1.45" stroke-dasharray="5.3 5"/>
<circle cx="148.5" cy="418.8" r="61.8" fill="none" stroke="#1c1cff" stroke-width="1.45" stroke-dasharray="5.3 5"/>
<circle cx="148.5" cy="418.8" r="82.4" fill="none" stroke="#1c1cff" stroke-width="1.45" stroke-dasharray="5.3 5"/>
<circle cx="148.5" cy="418.8" r="103" fill="none" stroke="#111" stroke-width="1"/>
<circle cx="148.5" cy="418.8" r="103" fill="none" stroke="#1c1cff" stroke-width="1.3" stroke-dasharray="5.3 5"/>
<line x1="148.5" y1="315.8" x2="148.5" y2="321.8" stroke="#222" stroke-width="1"/>
<line x1="175.16" y1="319.31" x2="174.51" y2="321.72" stroke="#222" stroke-width="1"/>
<line x1="200" y1="329.6" x2="197" y2="334.8" stroke="#222" stroke-width="1"/>
<line x1="221.33" y1="345.97" x2="219.56" y2="347.74" stroke="#222" stroke-width="1"/>
<line x1="237.7" y1="367.3" x2="232.5" y2="370.3" stroke="#222" stroke-width="1"/>
<line x1="247.99" y1="392.14" x2="245.58" y2="392.79" stroke="#222" stroke-width="1"/>
<line x1="251.5" y1="418.8" x2="245.5" y2="418.8" stroke="#222" stroke-width="1"/>
<line x1="247.99" y1="445.46" x2="245.58" y2="444.81" stroke="#222" stroke-width="1"/>
<line x1="237.7" y1="470.3" x2="232.5" y2="467.3" stroke="#222" stroke-width="1"/>
<line x1="221.33" y1="491.63" x2="219.56" y2="489.86" stroke="#222" stroke-width="1"/>
<line x1="200" y1="508" x2="197" y2="502.8" stroke="#222" stroke-width="1"/>
<line x1="175.16" y1="518.29" x2="174.51" y2="515.88" stroke="#222" stroke-width="1"/>
<line x1="148.5" y1="521.8" x2="148.5" y2="515.8" stroke="#222" stroke-width="1"/>
<line x1="121.84" y1="518.29" x2="122.49" y2="515.88" stroke="#222" stroke-width="1"/>
<line x1="97" y1="508" x2="100" y2="502.8" stroke="#222" stroke-width="1"/>
<line x1="75.67" y1="491.63" x2="77.44" y2="489.86" stroke="#222" stroke-width="1"/>
<line x1="59.3" y1="470.3" x2="64.5" y2="467.3" stroke="#222" stroke-width="1"/>
<line x1="49.01" y1="445.46" x2="51.42" y2="444.81" stroke="#222" stroke-width="1"/>
<line x1="45.5" y1="418.8" x2="51.5" y2="418.8" stroke="#222" stroke-width="1"/>
<line x1="49.01" y1="392.14" x2="51.42" y2="392.79" stroke="#222" stroke-width="1"/>
<line x1="59.3" y1="367.3" x2="64.5" y2="370.3" stroke="#222" stroke-width="1"/>
<line x1="75.67" y1="345.97" x2="77.44" y2="347.74" stroke="#222" stroke-width="1"/>
<line x1="97" y1="329.6" x2="100" y2="334.8" stroke="#222" stroke-width="1"/>
<line x1="121.84" y1="319.31" x2="122.49" y2="321.72" stroke="#222" stroke-width="1"/>
<path d="M147.2,347.7 C151.15,348.2 155.5,350.33 159.2,351.8 C162.9,353.27 166.7,354 169.4,356.5 C172.1,359 174.12,363.22 175.4,366.8 C176.68,370.38 176.67,374.97 177.1,378 C177.53,381.03 177.35,383.32 178,385 C178.65,386.68 179.1,387.58 181,388.1 C182.9,388.62 186.28,387.67 189.4,388.1 C192.52,388.53 196.48,389.42 199.7,390.7 C202.92,391.98 205.9,393.65 208.7,395.8 C211.5,397.95 214.33,401.02 216.5,403.6 C218.67,406.18 220.3,408.28 221.7,411.3 C223.1,414.32 224.22,418.25 224.9,421.7 C225.58,425.15 225.75,428.72 225.8,432 C225.85,435.28 226.15,437.13 225.2,441.4 C224.25,445.67 222.3,452.53 220.1,457.6 C217.9,462.67 215.38,467.4 212,471.8 C208.62,476.2 204.2,480.45 199.8,484 C195.4,487.55 190.67,490.73 185.6,493.1 C180.53,495.47 174.82,497.02 169.4,498.2 C163.98,499.38 158.95,499.87 153.1,500.2 C147.25,500.53 139.3,501.38 134.3,500.2 C129.3,499.02 126.98,495.47 123.1,493.1 C119.22,490.73 114.72,488.87 111,486 C107.28,483.13 103.52,479.62 100.8,475.9 C98.08,472.18 95.82,467.77 94.7,463.7 C93.58,459.63 93.78,455.2 94.1,451.5 C94.42,447.8 95.5,444.55 96.6,441.5 C97.7,438.45 99.87,435.7 100.7,433.2 C101.53,430.7 102.15,428.72 101.6,426.5 C101.05,424.28 99.2,422.38 97.4,419.9 C95.6,417.42 92.67,414.65 90.8,411.6 C88.93,408.55 87.03,403.85 86.2,401.6 C85.37,399.35 85.65,399.97 85.8,398.1 C85.95,396.23 86.23,393.42 87.1,390.4 C87.97,387.38 89.38,383.45 91,380 C92.62,376.55 94.55,372.82 96.8,369.7 C99.05,366.58 101.7,363.77 104.5,361.3 C107.3,358.83 110.37,356.62 113.6,354.9 C116.83,353.18 120.25,352.02 123.9,351 C127.55,349.98 131.62,349.35 135.5,348.8 C139.38,348.25 143.25,347.2 147.2,347.7Z" fill="none" stroke="#ff8000" stroke-width="2.5" stroke-linejoin="round"/>
<path d="M147.2,349.2 L159.2,353.6 L169.4,357.7 L175.4,366.8 L177,380 L179,385.5 L185.5,386.8 L194.5,391.3 L202.3,397.8 L210,406.2 L215.2,417.1 L217.1,429.4 L216,441.4 L212,453.6 L205.9,464.7 L198.8,475.9 L187.3,485.5 L176.1,492.7 L163.8,496.8 L149.5,498.8 L135.2,500.9 L133.1,498.8 L132.1,493.7 L128,490.7 L122.9,491.7 L110.7,484.5 L102.5,475.3 L95.3,464.1 L94.9,451.5 L99.9,438.2 L104,428.2 L97.4,419.9 L93.5,409.9 L92.9,408.4 L91.6,398.1 L92.9,387.8 L98.1,376.8 L103.2,367.1 L107.8,361.3 L112.3,358.1 L123.9,352.9 L135.5,351Z" fill="none" stroke="#ff8000" stroke-width="2.1" stroke-linejoin="round"/>
<polygon points="147.2,345.2 148.21,347.81 151,347.96 148.84,349.73 149.55,352.44 147.2,350.92 144.85,352.44 145.56,349.73 143.4,347.96 146.19,347.81" fill="#fff" stroke="#ff8000" stroke-width="1"/>
<polygon points="158.94,349.5 159.95,352.11 162.74,352.27 160.57,354.03 161.29,356.74 158.94,355.22 156.58,356.74 157.3,354.03 155.13,352.27 157.92,352.11" fill="#fff" stroke="#ff8000" stroke-width="1"/>
<polygon points="170.07,354.72 171.09,357.33 173.88,357.49 171.71,359.25 172.43,361.96 170.07,360.44 167.72,361.96 168.44,359.25 166.27,357.49 169.06,357.33" fill="#fff" stroke="#ff8000" stroke-width="1"/>
<polygon points="175.74,365.61 176.75,368.21 179.54,368.37 177.38,370.14 178.09,372.84 175.74,371.33 173.39,372.84 174.1,370.14 171.94,368.37 174.73,368.21" fill="#fff" stroke="#ff8000" stroke-width="1"/>
<polygon points="177.69,377.91 178.7,380.52 181.5,380.67 179.33,382.44 180.04,385.14 177.69,383.63 175.34,385.14 176.06,382.44 173.89,380.67 176.68,380.52" fill="#fff" stroke="#ff8000" stroke-width="1"/>
<polygon points="187.33,383.72 188.34,386.32 191.14,386.48 188.97,388.25 189.68,390.95 187.33,389.44 184.98,390.95 185.7,388.25 183.53,386.48 186.32,386.32" fill="#fff" stroke="#ff8000" stroke-width="1"/>
<polygon points="197.95,390.17 198.96,392.78 201.75,392.94 199.58,394.7 200.3,397.41 197.95,395.89 195.59,397.41 196.31,394.7 194.14,392.94 196.93,392.78" fill="#fff" stroke="#ff8000" stroke-width="1"/>
<polygon points="206.92,398.84 207.93,401.44 210.72,401.6 208.55,403.37 209.27,406.07 206.92,404.56 204.57,406.07 205.28,403.37 203.11,401.6 205.91,401.44" fill="#fff" stroke="#ff8000" stroke-width="1"/>
<polygon points="213.42,409.36 214.43,411.97 217.22,412.13 215.05,413.9 215.77,416.6 213.42,415.08 211.07,416.6 211.78,413.9 209.61,412.13 212.41,411.97" fill="#fff" stroke="#ff8000" stroke-width="1"/>
<polygon points="216.48,421.36 217.49,423.97 220.28,424.13 218.11,425.89 218.83,428.6 216.48,427.08 214.13,428.6 214.84,425.89 212.67,424.13 215.47,423.97" fill="#fff" stroke="#ff8000" stroke-width="1"/>
<polygon points="216.33,433.78 217.34,436.39 220.14,436.54 217.97,438.31 218.68,441.02 216.33,439.5 213.98,441.02 214.7,438.31 212.53,436.54 215.32,436.39" fill="#fff" stroke="#ff8000" stroke-width="1"/>
<polygon points="213.24,445.82 214.25,448.43 217.04,448.59 214.87,450.35 215.59,453.06 213.24,451.54 210.89,453.06 211.6,450.35 209.43,448.59 212.23,448.43" fill="#fff" stroke="#ff8000" stroke-width="1"/>
<polygon points="207.89,457.07 208.91,459.68 211.7,459.84 209.53,461.6 210.25,464.31 207.89,462.79 205.54,464.31 206.26,461.6 204.09,459.84 206.88,459.68" fill="#fff" stroke="#ff8000" stroke-width="1"/>
<polygon points="201.42,467.76 202.44,470.37 205.23,470.52 203.06,472.29 203.78,475 201.42,473.48 199.07,475 199.79,472.29 197.62,470.52 200.41,470.37" fill="#fff" stroke="#ff8000" stroke-width="1"/>
<polygon points="192.97,476.77 193.98,479.38 196.77,479.53 194.6,481.3 195.32,484.01 192.97,482.49 190.62,484.01 191.33,481.3 189.16,479.53 191.96,479.38" fill="#fff" stroke="#ff8000" stroke-width="1"/>
<polygon points="182.99,484.27 184.01,486.88 186.8,487.03 184.63,488.8 185.35,491.5 182.99,489.99 180.64,491.5 181.36,488.8 179.19,487.03 181.98,486.88" fill="#fff" stroke="#ff8000" stroke-width="1"/>
<polygon points="172.02,490.06 173.03,492.67 175.82,492.82 173.65,494.59 174.37,497.3 172.02,495.78 169.67,497.3 170.38,494.59 168.21,492.82 171.01,492.67" fill="#fff" stroke="#ff8000" stroke-width="1"/>
<polygon points="160,493.33 161.01,495.94 163.8,496.1 161.63,497.86 162.35,500.57 160,499.05 157.65,500.57 158.36,497.86 156.19,496.1 158.99,495.94" fill="#fff" stroke="#ff8000" stroke-width="1"/>
<polygon points="147.62,495.08 148.63,497.68 151.43,497.84 149.26,499.61 149.97,502.31 147.62,500.8 145.27,502.31 145.99,499.61 143.82,497.84 146.61,497.68" fill="#fff" stroke="#ff8000" stroke-width="1"/>
<polygon points="135.25,496.89 136.26,499.5 139.06,499.66 136.89,501.42 137.6,504.13 135.25,502.61 132.9,504.13 133.62,501.42 131.45,499.66 134.24,499.5" fill="#fff" stroke="#ff8000" stroke-width="1"/>
<polygon points="128.65,487.17 129.66,489.78 132.45,489.94 130.28,491.7 131,494.41 128.65,492.89 126.3,494.41 127.01,491.7 124.84,489.94 127.64,489.78" fill="#fff" stroke="#ff8000" stroke-width="1"/>
<polygon points="117.3,484.4 118.31,487 121.11,487.16 118.94,488.93 119.65,491.63 117.3,490.12 114.95,491.63 115.67,488.93 113.5,487.16 116.29,487" fill="#fff" stroke="#ff8000" stroke-width="1"/>
<polygon points="107.48,476.89 108.49,479.5 111.29,479.65 109.12,481.42 109.83,484.13 107.48,482.61 105.13,484.13 105.85,481.42 103.68,479.65 106.47,479.5" fill="#fff" stroke="#ff8000" stroke-width="1"/>
<polygon points="99.79,467.08 100.8,469.69 103.59,469.85 101.43,471.62 102.14,474.32 99.79,472.8 97.44,474.32 98.15,471.62 95.99,469.85 98.78,469.69" fill="#fff" stroke="#ff8000" stroke-width="1"/>
<polygon points="95.17,455.91 96.18,458.51 98.97,458.67 96.8,460.44 97.52,463.14 95.17,461.63 92.82,463.14 93.53,460.44 91.36,458.67 94.16,458.51" fill="#fff" stroke="#ff8000" stroke-width="1"/>
<polygon points="96.34,443.67 97.35,446.28 100.14,446.44 97.98,448.2 98.69,450.91 96.34,449.39 93.99,450.91 94.7,448.2 92.54,446.44 95.33,446.28" fill="#fff" stroke="#ff8000" stroke-width="1"/>
<polygon points="100.8,432 101.81,434.61 104.61,434.76 102.44,436.53 103.15,439.23 100.8,437.72 98.45,439.23 99.17,436.53 97,434.76 99.79,434.61" fill="#fff" stroke="#ff8000" stroke-width="1"/>
<polygon points="101.46,421.01 102.48,423.62 105.27,423.78 103.1,425.54 103.82,428.25 101.46,426.73 99.11,428.25 99.83,425.54 97.66,423.78 100.45,423.62" fill="#fff" stroke="#ff8000" stroke-width="1"/>
<polygon points="95.23,410.34 96.24,412.95 99.04,413.1 96.87,414.87 97.58,417.57 95.23,416.06 92.88,417.57 93.6,414.87 91.43,413.1 94.22,412.95" fill="#fff" stroke="#ff8000" stroke-width="1"/>
<polygon points="92.13,398.33 93.14,400.94 95.94,401.09 93.77,402.86 94.48,405.56 92.13,404.05 89.78,405.56 90.5,402.86 88.33,401.09 91.12,400.94" fill="#fff" stroke="#ff8000" stroke-width="1"/>
<polygon points="92.63,385.93 93.64,388.54 96.44,388.69 94.27,390.46 94.98,393.16 92.63,391.65 90.28,393.16 91,390.46 88.83,388.69 91.62,388.54" fill="#fff" stroke="#ff8000" stroke-width="1"/>
<polygon points="97.33,374.44 98.34,377.05 101.13,377.2 98.96,378.97 99.68,381.67 97.33,380.16 94.98,381.67 95.69,378.97 93.52,377.2 96.32,377.05" fill="#fff" stroke="#ff8000" stroke-width="1"/>
<polygon points="103.07,363.34 104.09,365.95 106.88,366.1 104.71,367.87 105.43,370.57 103.07,369.06 100.72,370.57 101.44,367.87 99.27,366.1 102.06,365.95" fill="#fff" stroke="#ff8000" stroke-width="1"/>
<polygon points="111.73,354.5 112.75,357.11 115.54,357.27 113.37,359.03 114.09,361.74 111.73,360.22 109.38,361.74 110.1,359.03 107.93,357.27 110.72,357.11" fill="#fff" stroke="#ff8000" stroke-width="1"/>
<polygon points="123.07,349.27 124.08,351.88 126.88,352.03 124.71,353.8 125.42,356.51 123.07,354.99 120.72,356.51 121.44,353.8 119.27,352.03 122.06,351.88" fill="#fff" stroke="#ff8000" stroke-width="1"/>
<polygon points="135.34,347.03 136.35,349.63 139.15,349.79 136.98,351.56 137.69,354.26 135.34,352.75 132.99,354.26 133.71,351.56 131.54,349.79 134.33,349.63" fill="#fff" stroke="#ff8000" stroke-width="1"/>
<path d="M110.4,433.5 C110.4,432.17 114.88,428.7 117.7,426.3 C120.52,423.9 124.1,420.83 127.3,419.1 C130.5,417.37 133.68,416.43 136.9,415.9 C140.12,415.37 143.38,416.43 146.6,415.9 C149.82,415.37 152.73,413.5 156.2,412.7 C159.67,411.9 163.38,411.1 167.4,411.1 C171.42,411.1 176.28,411.9 180.3,412.7 C184.32,413.5 188.55,414.83 191.5,415.9 C194.45,416.97 198.27,418.3 198,419.1 C197.73,419.9 193.38,420.03 189.9,420.7 C186.42,421.37 181.38,422.03 177.1,423.1 C172.82,424.17 167.15,425.37 164.2,427.1 C161.25,428.83 161.53,431.62 159.4,433.5 C157.27,435.38 154.07,437.72 151.4,438.4 C148.73,439.08 145.82,438.42 143.4,437.6 C140.98,436.78 139.58,434.18 136.9,433.5 C134.22,432.82 130.5,433.37 127.3,433.5 C124.1,433.63 120.52,434.3 117.7,434.3 C114.88,434.3 110.4,434.83 110.4,433.5Z" fill="none" stroke="#8a0000" stroke-width="2.6" stroke-linejoin="round"/>
<path d="M124.1,429.5 L129.7,423.1 L137.7,419.1 L137.7,425.5 L145.8,427.1 L149.8,433.5 L151.4,415.9 L155.4,420.7 L156.2,414.3 L161.8,415.9 L169.1,421.5 L175.5,417.5Z" fill="none" stroke="#8a0000" stroke-width="1.6"/>
<circle cx="124.1" cy="429.5" r="2.9" fill="#fff" stroke="#8a0000" stroke-width="0.9"/>
<circle cx="129.7" cy="423.1" r="2.9" fill="#fff" stroke="#8a0000" stroke-width="0.9"/>
<circle cx="137.7" cy="419.1" r="2.9" fill="#fff" stroke="#8a0000" stroke-width="0.9"/>
<circle cx="137.7" cy="425.5" r="2.9" fill="#fff" stroke="#8a0000" stroke-width="0.9"/>
<circle cx="145.8" cy="427.1" r="2.9" fill="#fff" stroke="#8a0000" stroke-width="0.9"/>
<circle cx="149.8" cy="433.5" r="2.9" fill="#fff" stroke="#8a0000" stroke-width="0.9"/>
<circle cx="151.4" cy="415.9" r="2.9" fill="#fff" stroke="#8a0000" stroke-width="0.9"/>
<circle cx="155.4" cy="420.7" r="2.9" fill="#fff" stroke="#8a0000" stroke-width="0.9"/>
<circle cx="156.2" cy="414.3" r="2.9" fill="#fff" stroke="#8a0000" stroke-width="0.9"/>
<circle cx="161.8" cy="415.9" r="2.9" fill="#fff" stroke="#8a0000" stroke-width="0.9"/>
<circle cx="169.1" cy="421.5" r="2.9" fill="#fff" stroke="#8a0000" stroke-width="0.9"/>
<circle cx="175.5" cy="417.5" r="2.9" fill="#fff" stroke="#8a0000" stroke-width="0.9"/>
<line x1="517" y1="402.1" x2="517" y2="299.2" stroke="#8a8a8a" stroke-width="1.2" stroke-dasharray="5 5.3"/>
<line x1="517" y1="402.1" x2="568.45" y2="312.99" stroke="#8a8a8a" stroke-width="1.2" stroke-dasharray="5 5.3"/>
<line x1="517" y1="402.1" x2="606.11" y2="350.65" stroke="#8a8a8a" stroke-width="1.2" stroke-dasharray="5 5.3"/>
<line x1="517" y1="402.1" x2="619.9" y2="402.1" stroke="#8a8a8a" stroke-width="1.2" stroke-dasharray="5 5.3"/>
<line x1="517" y1="402.1" x2="606.11" y2="453.55" stroke="#8a8a8a" stroke-width="1.2" stroke-dasharray="5 5.3"/>
<line x1="517" y1="402.1" x2="568.45" y2="491.21" stroke="#8a8a8a" stroke-width="1.2" stroke-dasharray="5 5.3"/>
<line x1="517" y1="402.1" x2="517" y2="505" stroke="#8a8a8a" stroke-width="1.2" stroke-dasharray="5 5.3"/>
<line x1="517" y1="402.1" x2="465.55" y2="491.21" stroke="#8a8a8a" stroke-width="1.2" stroke-dasharray="5 5.3"/>
<line x1="517" y1="402.1" x2="427.89" y2="453.55" stroke="#8a8a8a" stroke-width="1.2" stroke-dasharray="5 5.3"/>
<line x1="517" y1="402.1" x2="414.1" y2="402.1" stroke="#8a8a8a" stroke-width="1.2" stroke-dasharray="5 5.3"/>
<line x1="517" y1="402.1" x2="427.89" y2="350.65" stroke="#8a8a8a" stroke-width="1.2" stroke-dasharray="5 5.3"/>
<line x1="517" y1="402.1" x2="465.55" y2="312.99" stroke="#8a8a8a" stroke-width="1.2" stroke-dasharray="5 5.3"/>
<circle cx="517" cy="402.1" r="20.58" fill="none" stroke="#1c1cff" stroke-width="1.45" stroke-dasharray="5.3 5"/>
<circle cx="517" cy="402.1" r="41.16" fill="none" stroke="#1c1cff" stroke-width="1.45" stroke-dasharray="5.3 5"/>
<circle cx="517" cy="402.1" r="61.74" fill="none" stroke="#1c1cff" stroke-width="1.45" stroke-dasharray="5.3 5"/>
<circle cx="517" cy="402.1" r="82.32" fill="none" stroke="#1c1cff" stroke-width="1.45" stroke-dasharray="5.3 5"/>
<circle cx="517" cy="402.1" r="102.9" fill="none" stroke="#888" stroke-width="1"/>
<circle cx="517" cy="402.1" r="102.9" fill="none" stroke="#1c1cff" stroke-width="1.3" stroke-dasharray="5.3 5"/>
<line x1="517" y1="299.2" x2="517" y2="305.2" stroke="#666" stroke-width="1"/>
<line x1="543.63" y1="302.71" x2="542.99" y2="305.12" stroke="#666" stroke-width="1"/>
<line x1="568.45" y1="312.99" x2="565.45" y2="318.18" stroke="#666" stroke-width="1"/>
<line x1="589.76" y1="329.34" x2="587.99" y2="331.11" stroke="#666" stroke-width="1"/>
<line x1="606.11" y1="350.65" x2="600.92" y2="353.65" stroke="#666" stroke-width="1"/>
<line x1="616.39" y1="375.47" x2="613.98" y2="376.11" stroke="#666" stroke-width="1"/>
<line x1="619.9" y1="402.1" x2="613.9" y2="402.1" stroke="#666" stroke-width="1"/>
<line x1="616.39" y1="428.73" x2="613.98" y2="428.09" stroke="#666" stroke-width="1"/>
<line x1="606.11" y1="453.55" x2="600.92" y2="450.55" stroke="#666" stroke-width="1"/>
<line x1="589.76" y1="474.86" x2="587.99" y2="473.09" stroke="#666" stroke-width="1"/>
<line x1="568.45" y1="491.21" x2="565.45" y2="486.02" stroke="#666" stroke-width="1"/>
<line x1="543.63" y1="501.49" x2="542.99" y2="499.08" stroke="#666" stroke-width="1"/>
<line x1="517" y1="505" x2="517" y2="499" stroke="#666" stroke-width="1"/>
<line x1="490.37" y1="501.49" x2="491.01" y2="499.08" stroke="#666" stroke-width="1"/>
<line x1="465.55" y1="491.21" x2="468.55" y2="486.02" stroke="#666" stroke-width="1"/>
<line x1="444.24" y1="474.86" x2="446.01" y2="473.09" stroke="#666" stroke-width="1"/>
<line x1="427.89" y1="453.55" x2="433.08" y2="450.55" stroke="#666" stroke-width="1"/>
<line x1="417.61" y1="428.73" x2="420.02" y2="428.09" stroke="#666" stroke-width="1"/>
<line x1="414.1" y1="402.1" x2="420.1" y2="402.1" stroke="#666" stroke-width="1"/>
<line x1="417.61" y1="375.47" x2="420.02" y2="376.11" stroke="#666" stroke-width="1"/>
<line x1="427.89" y1="350.65" x2="433.08" y2="353.65" stroke="#666" stroke-width="1"/>
<line x1="444.24" y1="329.34" x2="446.01" y2="331.11" stroke="#666" stroke-width="1"/>
<line x1="465.55" y1="312.99" x2="468.55" y2="318.18" stroke="#666" stroke-width="1"/>
<line x1="490.37" y1="302.71" x2="491.01" y2="305.12" stroke="#666" stroke-width="1"/>
<path d="M515.49,317.8 C520.36,317.83 525.53,318.32 530.4,319.01 C535.26,319.7 539.93,320.42 544.7,321.93 C549.46,323.44 554.57,325.69 559,328.08 C563.43,330.46 567.54,333.18 571.28,336.24 C575.02,339.29 578.38,342.83 581.45,346.41 C584.53,349.98 587.59,353.89 589.71,357.69 C591.84,361.49 592.94,365.26 594.2,369.2 C595.46,373.14 596.45,376.92 597.3,381.3 C598.15,385.68 598.8,390.52 599.3,395.5 C599.8,400.48 600.63,405.53 600.3,411.2 C599.97,416.87 598.98,423.75 597.3,429.5 C595.62,435.25 593.25,440.62 590.2,445.7 C587.15,450.78 583.23,455.6 579,460 C574.77,464.4 569.87,468.55 564.8,472.1 C559.73,475.65 554.12,478.68 548.6,481.3 C543.08,483.92 536.9,486.2 531.7,487.8 C526.5,489.4 522.17,490.73 517.4,490.9 C512.63,491.07 507.52,489.83 503.1,488.8 C498.68,487.77 495.32,486.28 490.9,484.7 C486.48,483.12 480.68,481.1 476.6,479.3 C472.52,477.5 469.83,476.28 466.4,473.9 C462.97,471.52 459.2,468.2 456,465 C452.8,461.8 449.78,458.38 447.2,454.7 C444.62,451.02 442.48,447.08 440.5,442.9 C438.52,438.72 436.65,434.28 435.3,429.6 C433.95,424.92 432.98,419.25 432.4,414.8 C431.82,410.35 431.75,407.11 431.8,402.9 C431.85,398.69 431.93,394.23 432.71,389.51 C433.48,384.8 434.82,379.57 436.43,374.61 C438.04,369.64 440.09,364.23 442.38,359.7 C444.66,355.17 447.15,351.33 450.14,347.42 C453.12,343.51 456.57,339.47 460.31,336.25 C464.05,333.02 468.16,330.47 472.59,328.09 C477.02,325.7 482.12,323.48 486.89,321.94 C491.66,320.39 496.42,319.5 501.19,318.81 C505.95,318.12 510.62,317.77 515.49,317.8Z" fill="none" stroke="#ff8000" stroke-width="2.5" stroke-linejoin="round"/>
<path d="M515.5,320.6 L530.3,321.2 L533,321.6 L533.5,324 L544.5,325 L558.7,330 L570.9,338 L581,347.8 L588.5,359 L580,366.1 L584.1,376.3 L587.1,388.4 L589.2,399.6 L590.2,401.1 L589.2,414.3 L586.1,426.5 L581,438.6 L572.9,448.8 L564.8,456.9 L554.7,465 L542.5,471.1 L530.3,475.2 L531.3,488.4 L518.1,490.4 L501.3,489.4 L499.3,481.3 L489.9,478.6 L477.6,473.5 L464.9,465 L454.6,454.7 L447.2,442.9 L442,429.6 L439,416.3 L438.3,404.4 L437.7,402.1 L445.1,401.4 L446.6,391 L449.6,379.2 L456.2,364.4 L460.7,357 L468.9,348.9 L476,341.8 L474.9,333.6 L487.1,327.8 L501.3,323.6Z" fill="none" stroke="#ff8000" stroke-width="2.1" stroke-linejoin="round"/>
<polygon points="515.5,316.6 516.51,319.21 519.3,319.36 517.14,321.13 517.85,323.84 515.5,322.32 513.15,323.84 513.86,321.13 511.7,319.36 514.49,319.21" fill="#fff" stroke="#ff8000" stroke-width="1"/>
<polygon points="527.99,317.11 529,319.71 531.79,319.87 529.63,321.64 530.34,324.34 527.99,322.83 525.64,324.34 526.35,321.64 524.19,319.87 526.98,319.71" fill="#fff" stroke="#ff8000" stroke-width="1"/>
<polygon points="538.49,320.45 539.5,323.06 542.29,323.22 540.12,324.98 540.84,327.69 538.49,326.17 536.14,327.69 536.85,324.98 534.68,323.22 537.48,323.06" fill="#fff" stroke="#ff8000" stroke-width="1"/>
<polygon points="550.59,323.15 551.61,325.75 554.4,325.91 552.23,327.68 552.95,330.38 550.59,328.87 548.24,330.38 548.96,327.68 546.79,325.91 549.58,325.75" fill="#fff" stroke="#ff8000" stroke-width="1"/>
<polygon points="561.97,328.14 562.98,330.75 565.77,330.91 563.6,332.67 564.32,335.38 561.97,333.86 559.62,335.38 560.33,332.67 558.16,330.91 560.96,330.75" fill="#fff" stroke="#ff8000" stroke-width="1"/>
<polygon points="572.2,335.27 573.22,337.87 576.01,338.03 573.84,339.8 574.56,342.5 572.2,340.99 569.85,342.5 570.57,339.8 568.4,338.03 571.19,337.87" fill="#fff" stroke="#ff8000" stroke-width="1"/>
<polygon points="581.14,344 582.15,346.61 584.94,346.77 582.77,348.53 583.49,351.24 581.14,349.72 578.79,351.24 579.5,348.53 577.33,346.77 580.13,346.61" fill="#fff" stroke="#ff8000" stroke-width="1"/>
<polygon points="588.09,354.39 589.1,357 591.9,357.15 589.73,358.92 590.44,361.63 588.09,360.11 585.74,361.63 586.46,358.92 584.29,357.15 587.08,357" fill="#fff" stroke="#ff8000" stroke-width="1"/>
<polygon points="580.26,362.74 581.27,365.35 584.06,365.5 581.89,367.27 582.61,369.98 580.26,368.46 577.91,369.98 578.62,367.27 576.45,365.5 579.25,365.35" fill="#fff" stroke="#ff8000" stroke-width="1"/>
<polygon points="584.63,374.43 585.64,377.04 588.43,377.2 586.26,378.96 586.98,381.67 584.63,380.15 582.28,381.67 582.99,378.96 580.82,377.2 583.62,377.04" fill="#fff" stroke="#ff8000" stroke-width="1"/>
<polygon points="587.51,386.59 588.52,389.2 591.32,389.36 589.15,391.12 589.86,393.83 587.51,392.31 585.16,393.83 585.88,391.12 583.71,389.36 586.5,389.2" fill="#fff" stroke="#ff8000" stroke-width="1"/>
<polygon points="590.08,398.63 591.1,401.24 593.89,401.39 591.72,403.16 592.44,405.86 590.08,404.35 587.73,405.86 588.45,403.16 586.28,401.39 589.07,401.24" fill="#fff" stroke="#ff8000" stroke-width="1"/>
<polygon points="589,411.07 590.02,413.68 592.81,413.83 590.64,415.6 591.36,418.31 589,416.79 586.65,418.31 587.37,415.6 585.2,413.83 587.99,413.68" fill="#fff" stroke="#ff8000" stroke-width="1"/>
<polygon points="585.83,423.15 586.84,425.76 589.63,425.92 587.46,427.68 588.18,430.39 585.83,428.87 583.47,430.39 584.19,427.68 582.02,425.92 584.81,425.76" fill="#fff" stroke="#ff8000" stroke-width="1"/>
<polygon points="580.95,434.66 581.96,437.27 584.76,437.42 582.59,439.19 583.3,441.9 580.95,440.38 578.6,441.9 579.32,439.19 577.15,437.42 579.94,437.27" fill="#fff" stroke="#ff8000" stroke-width="1"/>
<polygon points="573.18,444.45 574.19,447.06 576.98,447.21 574.81,448.98 575.53,451.68 573.18,450.17 570.83,451.68 571.54,448.98 569.37,447.21 572.17,447.06" fill="#fff" stroke="#ff8000" stroke-width="1"/>
<polygon points="564.33,453.27 565.35,455.88 568.14,456.04 565.97,457.8 566.69,460.51 564.33,458.99 561.98,460.51 562.7,457.8 560.53,456.04 563.32,455.88" fill="#fff" stroke="#ff8000" stroke-width="1"/>
<polygon points="554.57,461.07 555.58,463.68 558.37,463.83 556.2,465.6 556.92,468.3 554.57,466.79 552.22,468.3 552.93,465.6 550.76,463.83 553.56,463.68" fill="#fff" stroke="#ff8000" stroke-width="1"/>
<polygon points="543.39,466.66 544.4,469.27 547.19,469.42 545.02,471.19 545.74,473.89 543.39,472.38 541.03,473.89 541.75,471.19 539.58,469.42 542.37,469.27" fill="#fff" stroke="#ff8000" stroke-width="1"/>
<polygon points="531.59,470.77 532.6,473.37 535.39,473.53 533.23,475.3 533.94,478 531.59,476.49 529.24,478 529.95,475.3 527.79,473.53 530.58,473.37" fill="#fff" stroke="#ff8000" stroke-width="1"/>
<polygon points="531.14,482.31 532.15,484.92 534.95,485.07 532.78,486.84 533.49,489.54 531.14,488.03 528.79,489.54 529.51,486.84 527.34,485.07 530.13,484.92" fill="#fff" stroke="#ff8000" stroke-width="1"/>
<polygon points="521.02,485.96 522.03,488.57 524.82,488.72 522.65,490.49 523.37,493.19 521.02,491.68 518.66,493.19 519.38,490.49 517.21,488.72 520.01,488.57" fill="#fff" stroke="#ff8000" stroke-width="1"/>
<polygon points="508.57,485.83 509.58,488.44 512.37,488.6 510.2,490.36 510.92,493.07 508.57,491.55 506.22,493.07 506.93,490.36 504.76,488.6 507.56,488.44" fill="#fff" stroke="#ff8000" stroke-width="1"/>
<polygon points="500.05,480.33 501.06,482.94 503.85,483.1 501.68,484.86 502.4,487.57 500.05,486.05 497.7,487.57 498.41,484.86 496.24,483.1 499.04,482.94" fill="#fff" stroke="#ff8000" stroke-width="1"/>
<polygon points="490.29,474.71 491.3,477.32 494.09,477.48 491.92,479.24 492.64,481.95 490.29,480.43 487.94,481.95 488.65,479.24 486.48,477.48 489.28,477.32" fill="#fff" stroke="#ff8000" stroke-width="1"/>
<polygon points="478.73,469.97 479.74,472.57 482.53,472.73 480.36,474.5 481.08,477.2 478.73,475.69 476.37,477.2 477.09,474.5 474.92,472.73 477.71,472.57" fill="#fff" stroke="#ff8000" stroke-width="1"/>
<polygon points="468.22,463.22 469.24,465.83 472.03,465.99 469.86,467.76 470.58,470.46 468.22,468.94 465.87,470.46 466.59,467.76 464.42,465.99 467.21,465.83" fill="#fff" stroke="#ff8000" stroke-width="1"/>
<polygon points="458.89,454.99 459.9,457.6 462.69,457.75 460.53,459.52 461.24,462.23 458.89,460.71 456.54,462.23 457.25,459.52 455.09,457.75 457.88,457.6" fill="#fff" stroke="#ff8000" stroke-width="1"/>
<polygon points="451.18,445.25 452.19,447.86 454.99,448.01 452.82,449.78 453.53,452.49 451.18,450.97 448.83,452.49 449.55,449.78 447.38,448.01 450.17,447.86" fill="#fff" stroke="#ff8000" stroke-width="1"/>
<polygon points="445.38,434.24 446.39,436.85 449.18,437 447.01,438.77 447.73,441.47 445.38,439.96 443.03,441.47 443.74,438.77 441.57,437 444.37,436.85" fill="#fff" stroke="#ff8000" stroke-width="1"/>
<polygon points="441.29,422.45 442.3,425.06 445.09,425.22 442.93,426.99 443.64,429.69 441.29,428.17 438.94,429.69 439.65,426.99 437.49,425.22 440.28,425.06" fill="#fff" stroke="#ff8000" stroke-width="1"/>
<polygon points="438.88,410.21 439.89,412.82 442.68,412.98 440.51,414.74 441.23,417.45 438.88,415.93 436.53,417.45 437.24,414.74 435.07,412.98 437.87,412.82" fill="#fff" stroke="#ff8000" stroke-width="1"/>
<polygon points="437.99,398.07 439,400.68 441.8,400.84 439.63,402.6 440.34,405.31 437.99,403.79 435.64,405.31 436.36,402.6 434.19,400.84 436.98,400.68" fill="#fff" stroke="#ff8000" stroke-width="1"/>
<polygon points="445.87,392.09 446.88,394.7 449.67,394.86 447.5,396.63 448.22,399.33 445.87,397.81 443.51,399.33 444.23,396.63 442.06,394.86 444.85,394.7" fill="#fff" stroke="#ff8000" stroke-width="1"/>
<polygon points="448.41,379.87 449.42,382.48 452.22,382.64 450.05,384.41 450.76,387.11 448.41,385.59 446.06,387.11 446.78,384.41 444.61,382.64 447.4,382.48" fill="#fff" stroke="#ff8000" stroke-width="1"/>
<polygon points="452.73,368.19 453.74,370.8 456.53,370.95 454.36,372.72 455.08,375.42 452.73,373.91 450.38,375.42 451.09,372.72 448.92,370.95 451.72,370.8" fill="#fff" stroke="#ff8000" stroke-width="1"/>
<polygon points="458.26,357.01 459.27,359.61 462.07,359.77 459.9,361.54 460.62,364.24 458.26,362.73 455.91,364.24 456.63,361.54 454.46,359.77 457.25,359.61" fill="#fff" stroke="#ff8000" stroke-width="1"/>
<polygon points="466.26,347.51 467.27,350.12 470.06,350.27 467.89,352.04 468.61,354.75 466.26,353.23 463.91,354.75 464.62,352.04 462.45,350.27 465.25,350.12" fill="#fff" stroke="#ff8000" stroke-width="1"/>
<polygon points="475.11,338.69 476.12,341.3 478.92,341.45 476.75,343.22 477.46,345.92 475.11,344.41 472.76,345.92 473.48,343.22 471.31,341.45 474.1,341.3" fill="#fff" stroke="#ff8000" stroke-width="1"/>
<polygon points="477.58,328.32 478.59,330.93 481.39,331.09 479.22,332.86 479.93,335.56 477.58,334.04 475.23,335.56 475.95,332.86 473.78,331.09 476.57,330.93" fill="#fff" stroke="#ff8000" stroke-width="1"/>
<polygon points="488.98,323.24 489.99,325.85 492.79,326.01 490.62,327.77 491.33,330.48 488.98,328.96 486.63,330.48 487.35,327.77 485.18,326.01 487.97,325.85" fill="#fff" stroke="#ff8000" stroke-width="1"/>
<polygon points="500.97,319.7 501.98,322.31 504.77,322.46 502.6,324.23 503.32,326.93 500.97,325.42 498.62,326.93 499.33,324.23 497.16,322.46 499.96,322.31" fill="#fff" stroke="#ff8000" stroke-width="1"/>
<polygon points="513.19,317.09 514.2,319.7 517,319.85 514.83,321.62 515.54,324.32 513.19,322.81 510.84,324.32 511.56,321.62 509.39,319.85 512.18,319.7" fill="#fff" stroke="#ff8000" stroke-width="1"/>
<path d="M516,368.5 C519.23,368.5 523.12,372.82 526.2,375.9 C529.28,378.98 532.35,383 534.5,387 C536.65,391 538.63,395.6 539.1,399.9 C539.57,404.2 538.83,408.8 537.3,412.8 C535.77,416.8 532.68,420.82 529.9,423.9 C527.12,426.98 522.75,429.15 520.6,431.3 C518.45,433.45 518.22,436.8 517,436.8 C515.78,436.8 515.47,433.45 513.3,431.3 C511.13,429.15 506.78,426.98 504,423.9 C501.22,420.82 498.13,416.8 496.6,412.8 C495.07,408.8 494.48,404.2 494.8,399.9 C495.12,395.6 496.5,391 498.5,387 C500.5,383 503.88,378.98 506.8,375.9 C509.72,372.82 512.77,368.5 516,368.5Z" fill="none" stroke="#8a0000" stroke-width="2.6" stroke-linejoin="round"/>
<path d="M516,374 L506.8,390.6 L503.1,399.9 L504,410 L511.4,418.4 L517,423 L522.5,417.4 L529,409.1 L530.8,399.9 L528,387.9Z" fill="none" stroke="#8a0000" stroke-width="1.6"/>
<circle cx="516" cy="374" r="2.6" fill="#fff" stroke="#8a0000" stroke-width="0.9"/>
<circle cx="506.8" cy="390.6" r="2.6" fill="#fff" stroke="#8a0000" stroke-width="0.9"/>
<circle cx="503.1" cy="399.9" r="2.6" fill="#fff" stroke="#8a0000" stroke-width="0.9"/>
<circle cx="504" cy="410" r="2.6" fill="#fff" stroke="#8a0000" stroke-width="0.9"/>
<circle cx="511.4" cy="418.4" r="2.6" fill="#fff" stroke="#8a0000" stroke-width="0.9"/>
<circle cx="517" cy="423" r="2.6" fill="#fff" stroke="#8a0000" stroke-width="0.9"/>
<circle cx="522.5" cy="417.4" r="2.6" fill="#fff" stroke="#8a0000" stroke-width="0.9"/>
<circle cx="529" cy="409.1" r="2.6" fill="#fff" stroke="#8a0000" stroke-width="0.9"/>
<circle cx="530.8" cy="399.9" r="2.6" fill="#fff" stroke="#8a0000" stroke-width="0.9"/>
<circle cx="528" cy="387.9" r="2.6" fill="#fff" stroke="#8a0000" stroke-width="0.9"/>
<line x1="41.5" y1="100.3" x2="131.82" y2="128.13" stroke="#781446" stroke-width="1.5" stroke-dasharray="3.6 2.6"/><polygon points="136.6,129.6 131.09,130.52 132.56,125.74" fill="#781446"/>
<line x1="41.5" y1="105.5" x2="82.57" y2="122.12" stroke="#f59650" stroke-width="1.5" stroke-dasharray="3.6 2.6"/><polygon points="87.2,124 81.63,124.44 83.5,119.81" fill="#f59650"/>
<line x1="219.7" y1="104.9" x2="179.24" y2="118.42" stroke="#781446" stroke-width="1.5" stroke-dasharray="3.6 2.6"/><polygon points="174.5,120 178.45,116.04 180.03,120.79" fill="#781446"/>
<line x1="230" y1="119.3" x2="212.23" y2="147.95" stroke="#f59650" stroke-width="1.5" stroke-dasharray="3.6 2.6"/><polygon points="209.6,152.2 210.11,146.63 214.36,149.27" fill="#f59650"/>
<line x1="411.5" y1="95.5" x2="500.22" y2="122.83" stroke="#781446" stroke-width="1.5" stroke-dasharray="3.6 2.6"/><polygon points="505,124.3 499.49,125.22 500.96,120.44" fill="#781446"/>
<line x1="411.5" y1="97.5" x2="420.73" y2="104.09" stroke="#f59650" stroke-width="1.5" stroke-dasharray="3.6 2.6"/><polygon points="424.8,107 419.28,106.13 422.18,102.06" fill="#f59650"/>
<line x1="602.5" y1="101" x2="543.05" y2="127.94" stroke="#781446" stroke-width="1.5" stroke-dasharray="3.6 2.6"/><polygon points="538.5,130 542.02,125.66 544.09,130.21" fill="#781446"/>
<line x1="612.8" y1="114.7" x2="592.57" y2="127" stroke="#f59650" stroke-width="1.5" stroke-dasharray="3.6 2.6"/><polygon points="588.3,129.6 591.27,124.87 593.87,129.14" fill="#f59650"/>
<line x1="57.2" y1="381" x2="123.7" y2="413.31" stroke="#781446" stroke-width="1.5" stroke-dasharray="3.6 2.6"/><polygon points="128.2,415.5 122.61,415.56 124.8,411.07" fill="#781446"/>
<line x1="57.2" y1="384" x2="79.54" y2="400.08" stroke="#f59650" stroke-width="1.5" stroke-dasharray="3.6 2.6"/><polygon points="83.6,403 78.08,402.11 81,398.05" fill="#f59650"/>
<line x1="237" y1="385.5" x2="188.57" y2="415" stroke="#781446" stroke-width="1.5" stroke-dasharray="3.6 2.6"/><polygon points="184.3,417.6 187.27,412.86 189.87,417.13" fill="#781446"/>
<line x1="247" y1="399" x2="225.06" y2="420.69" stroke="#f59650" stroke-width="1.5" stroke-dasharray="3.6 2.6"/><polygon points="221.5,424.2 223.3,418.91 226.81,422.46" fill="#f59650"/>
<line x1="422.2" y1="360" x2="496.46" y2="379.06" stroke="#781446" stroke-width="1.5" stroke-dasharray="3.6 2.6"/><polygon points="501.3,380.3 495.84,381.48 497.08,376.64" fill="#781446"/>
<line x1="422.2" y1="365.1" x2="429.6" y2="371.83" stroke="#f59650" stroke-width="1.5" stroke-dasharray="3.6 2.6"/><polygon points="433.3,375.2 427.92,373.68 431.28,369.99" fill="#f59650"/>
<line x1="600" y1="365" x2="540.98" y2="394.37" stroke="#781446" stroke-width="1.5" stroke-dasharray="3.6 2.6"/><polygon points="536.5,396.6 539.86,392.13 542.09,396.61" fill="#781446"/>
<line x1="610.5" y1="379" x2="597.6" y2="393.65" stroke="#f59650" stroke-width="1.5" stroke-dasharray="3.6 2.6"/><polygon points="594.3,397.4 595.73,392 599.48,395.3" fill="#f59650"/>
<g>
<rect x="0.6" y="92.9" width="41.1" height="24.5" fill="#fff"/>
<rect x="1.1" y="102.7" width="18.7" height="4.17" fill="#ffff5a"/>
<line x1="1.1" y1="106.01" x2="20.3" y2="106.01" stroke="#c9c46a" stroke-width="0.6"/>
<path d="M1.39,106.62 a3.74,3.92 0 0 0 7.49,0Z" fill="#ffff5a"/>
<path d="M12.03,106.62 a3.74,3.92 0 0 0 7.49,0Z" fill="#ffff5a"/>
<rect x="9.27" y="99.76" width="2.36" height="17.15" fill="#ffff5a"/>
<circle cx="10.45" cy="103.68" r="2.36" fill="#ffff5a" stroke="#c9c46a" stroke-width="0.6"/>
<circle cx="10.45" cy="99.27" r="1.18" fill="#ffff5a" stroke="#c9c46a" stroke-width="0.5"/>
<rect x="3.36" y="111.52" width="3.94" height="5.64" fill="#ffff5a" rx="1"/>
<circle cx="5.33" cy="111.52" r="1.38" fill="#ffff5a" stroke="#c9c46a" stroke-width="0.5"/>
<rect x="13.6" y="111.52" width="3.94" height="5.64" fill="#ffff5a" rx="1"/>
<circle cx="15.57" cy="111.52" r="1.38" fill="#ffff5a" stroke="#c9c46a" stroke-width="0.5"/>
<rect x="7.69" y="114.95" width="5.52" height="2.21" fill="#ffff5a"/>
<rect x="21.1" y="95.35" width="2.78" height="21.56" fill="#ffff5a"/>
<rect x="21.74" y="100.25" width="1.5" height="1.47" fill="#fff"/>
<rect x="21.74" y="105.64" width="1.5" height="1.47" fill="#fff"/>
<rect x="21.74" y="111.03" width="1.5" height="1.47" fill="#fff"/>
<rect x="38.12" y="95.35" width="2.78" height="21.56" fill="#ffff5a"/>
<rect x="38.76" y="100.25" width="1.5" height="1.47" fill="#fff"/>
<rect x="38.76" y="105.64" width="1.5" height="1.47" fill="#fff"/>
<rect x="38.76" y="111.03" width="1.5" height="1.47" fill="#fff"/>
<path d="M31,94.37 l5.56,4.9 l-5.56,4.9 l-5.56,-4.9 Z" fill="#ffff5a" stroke="#c9c46a" stroke-width="0.6"/>
<circle cx="31" cy="96.82" r="0.96" fill="#fff" stroke="#c9c46a" stroke-width="0.4"/>
<circle cx="28.86" cy="99.27" r="0.96" fill="#fff" stroke="#c9c46a" stroke-width="0.4"/>
<circle cx="33.14" cy="99.27" r="0.96" fill="#fff" stroke="#c9c46a" stroke-width="0.4"/>
<circle cx="31" cy="101.72" r="0.96" fill="#fff" stroke="#c9c46a" stroke-width="0.4"/>
<rect x="29.93" y="104.17" width="2.14" height="2.45" fill="#ffff5a"/>
<rect x="23.08" y="106.38" width="15.84" height="1.96" fill="#ffff5a" stroke="#c9c46a" stroke-width="0.4"/>
<rect x="23.08" y="109.07" width="15.84" height="2.94" fill="#ffff5a"/>
<rect x="24.58" y="109.44" width="2.57" height="2.21" fill="#fff"/>
<rect x="29.72" y="109.44" width="2.57" height="2.21" fill="#fff"/>
<rect x="34.85" y="109.44" width="2.57" height="2.21" fill="#fff"/>
<rect x="21.1" y="112.5" width="19.8" height="4.66" fill="#ffff5a"/>
<path d="M23.81,116.67 v-1.96 a1.2,1.2 0 0 1 2.4,0 v1.96 Z" fill="#fff"/>
<path d="M27.66,116.67 v-1.96 a1.2,1.2 0 0 1 2.4,0 v1.96 Z" fill="#fff"/>
<path d="M31.51,116.67 v-1.96 a1.2,1.2 0 0 1 2.4,0 v1.96 Z" fill="#fff"/>
<path d="M35.36,116.67 v-1.96 a1.2,1.2 0 0 1 2.4,0 v1.96 Z" fill="#fff"/>
<rect x="0.6" y="92.9" width="41.1" height="24.5" fill="none" stroke="#f0946a" stroke-width="1.3"/>
<line x1="20.3" y1="92.9" x2="20.3" y2="117.4" stroke="#f0946a" stroke-width="1.3"/>
</g>
<rect x="216.8" y="90.3" width="47.5" height="29.7" rx="2.2" fill="#f9b500"/>
<rect x="219.8" y="93.3" width="41.5" height="23.7" fill="#b4b4ac"/>
<defs><linearGradient id="dg1" x1="0" y1="0" x2="0" y2="1"><stop offset="0" stop-color="#9a9814"/><stop offset="0.35" stop-color="#6e6a08"/><stop offset="0.7" stop-color="#4a4000"/><stop offset="1" stop-color="#2e2600"/></linearGradient></defs>
<rect x="220.1" y="93.6" width="18.6" height="23.1" fill="url(#dg1)"/>
<rect x="220.6" y="101.92" width="17.6" height="1.85" fill="#f4c468"/>
<path d="M220.66,103.53 a3.91,4.62 0 0 0 7.81,0Z" fill="#f4c468"/>
<path d="M230.33,103.53 a3.91,4.62 0 0 0 7.81,0Z" fill="#f4c468"/>
<rect x="228.1" y="99.14" width="2.6" height="16.63" fill="#f4c468"/>
<circle cx="229.4" cy="100.53" r="1.86" fill="#f4c468"/>
<rect x="221.96" y="110.23" width="4.09" height="5.54" fill="#f4c468" rx="1.5"/>
<rect x="232.75" y="110.23" width="4.09" height="5.54" fill="#f4c468" rx="1.5"/>
<defs><linearGradient id="dg2" x1="0" y1="0" x2="0" y2="1"><stop offset="0" stop-color="#9a9814"/><stop offset="0.35" stop-color="#6e6a08"/><stop offset="0.7" stop-color="#4a4000"/><stop offset="1" stop-color="#2e2600"/></linearGradient></defs>
<rect x="241.7" y="93.6" width="19.3" height="23.1" fill="url(#dg2)"/>
<path d="M251.35,94.99 l5.21,4.39 l-5.21,4.39 l-5.21,-4.39 Z" fill="#f4c468"/>
<path d="M247.49,99.38 h7.72 M251.35,95.91 v6.93" stroke="#4a3c00" stroke-width="0.7"/>
<rect x="242.3" y="96.37" width="2.51" height="19.4" fill="#f4c468"/>
<rect x="242.88" y="100.53" width="1.35" height="1.16" fill="#4a3c00"/>
<rect x="242.88" y="105.15" width="1.35" height="1.16" fill="#4a3c00"/>
<rect x="242.88" y="109.77" width="1.35" height="1.16" fill="#4a3c00"/>
<rect x="257.89" y="96.37" width="2.51" height="19.4" fill="#f4c468"/>
<rect x="258.47" y="100.53" width="1.35" height="1.16" fill="#4a3c00"/>
<rect x="258.47" y="105.15" width="1.35" height="1.16" fill="#4a3c00"/>
<rect x="258.47" y="109.77" width="1.35" height="1.16" fill="#4a3c00"/>
<rect x="250.38" y="103.76" width="1.93" height="1.85" fill="#f4c468"/>
<rect x="244.21" y="105.15" width="14.28" height="1.85" fill="#f4c468"/>
<rect x="244.21" y="107.46" width="14.28" height="3.47" fill="#f4c468"/>
<rect x="245.95" y="108.15" width="3.09" height="2.08" fill="#4a3c00"/>
<rect x="253.67" y="108.15" width="3.09" height="2.08" fill="#4a3c00"/>
<rect x="242.3" y="111.62" width="18.1" height="4.16" fill="#f4c468"/>
<path d="M244.46,115.78 v-1.85 a1.1,1.1 0 0 1 2.2,0 v1.85 Z" fill="#4a3c00"/>
<path d="M248.32,115.78 v-1.85 a1.1,1.1 0 0 1 2.2,0 v1.85 Z" fill="#4a3c00"/>
<path d="M252.18,115.78 v-1.85 a1.1,1.1 0 0 1 2.2,0 v1.85 Z" fill="#4a3c00"/>
<path d="M256.04,115.78 v-1.85 a1.1,1.1 0 0 1 2.2,0 v1.85 Z" fill="#4a3c00"/>
<g>
<rect x="370.6" y="85.9" width="41" height="24.8" fill="#fff"/>
<rect x="371.1" y="95.82" width="18.9" height="4.22" fill="#ffff5a"/>
<line x1="371.1" y1="99.17" x2="390.5" y2="99.17" stroke="#c9c46a" stroke-width="0.6"/>
<path d="M371.4,99.79 a3.78,3.97 0 0 0 7.56,0Z" fill="#ffff5a"/>
<path d="M382.14,99.79 a3.78,3.97 0 0 0 7.56,0Z" fill="#ffff5a"/>
<rect x="379.36" y="92.84" width="2.39" height="17.36" fill="#ffff5a"/>
<circle cx="380.55" cy="96.81" r="2.39" fill="#ffff5a" stroke="#c9c46a" stroke-width="0.6"/>
<circle cx="380.55" cy="92.35" r="1.19" fill="#ffff5a" stroke="#c9c46a" stroke-width="0.5"/>
<rect x="373.39" y="104.75" width="3.98" height="5.7" fill="#ffff5a" rx="1"/>
<circle cx="375.38" cy="104.75" r="1.39" fill="#ffff5a" stroke="#c9c46a" stroke-width="0.5"/>
<rect x="383.73" y="104.75" width="3.98" height="5.7" fill="#ffff5a" rx="1"/>
<circle cx="385.72" cy="104.75" r="1.39" fill="#ffff5a" stroke="#c9c46a" stroke-width="0.5"/>
<rect x="377.76" y="108.22" width="5.57" height="2.23" fill="#ffff5a"/>
<rect x="391.3" y="88.38" width="2.74" height="21.82" fill="#ffff5a"/>
<rect x="391.93" y="93.34" width="1.48" height="1.49" fill="#fff"/>
<rect x="391.93" y="98.8" width="1.48" height="1.49" fill="#fff"/>
<rect x="391.93" y="104.25" width="1.48" height="1.49" fill="#fff"/>
<rect x="408.06" y="88.38" width="2.74" height="21.82" fill="#ffff5a"/>
<rect x="408.69" y="93.34" width="1.48" height="1.49" fill="#fff"/>
<rect x="408.69" y="98.8" width="1.48" height="1.49" fill="#fff"/>
<rect x="408.69" y="104.25" width="1.48" height="1.49" fill="#fff"/>
<path d="M401.05,87.39 l5.49,4.96 l-5.49,4.96 l-5.49,-4.96 Z" fill="#ffff5a" stroke="#c9c46a" stroke-width="0.6"/>
<circle cx="401.05" cy="89.87" r="0.95" fill="#fff" stroke="#c9c46a" stroke-width="0.4"/>
<circle cx="398.94" cy="92.35" r="0.95" fill="#fff" stroke="#c9c46a" stroke-width="0.4"/>
<circle cx="403.16" cy="92.35" r="0.95" fill="#fff" stroke="#c9c46a" stroke-width="0.4"/>
<circle cx="401.05" cy="94.83" r="0.95" fill="#fff" stroke="#c9c46a" stroke-width="0.4"/>
<rect x="400" y="97.31" width="2.11" height="2.48" fill="#ffff5a"/>
<rect x="393.24" y="99.54" width="15.61" height="1.98" fill="#ffff5a" stroke="#c9c46a" stroke-width="0.4"/>
<rect x="393.24" y="102.27" width="15.61" height="2.98" fill="#ffff5a"/>
<rect x="394.72" y="102.64" width="2.53" height="2.23" fill="#fff"/>
<rect x="399.78" y="102.64" width="2.53" height="2.23" fill="#fff"/>
<rect x="404.85" y="102.64" width="2.53" height="2.23" fill="#fff"/>
<rect x="391.3" y="105.74" width="19.5" height="4.71" fill="#ffff5a"/>
<path d="M393.94,109.96 v-1.98 a1.2,1.2 0 0 1 2.4,0 v1.98 Z" fill="#fff"/>
<path d="M397.74,109.96 v-1.98 a1.2,1.2 0 0 1 2.4,0 v1.98 Z" fill="#fff"/>
<path d="M401.54,109.96 v-1.98 a1.2,1.2 0 0 1 2.4,0 v1.98 Z" fill="#fff"/>
<path d="M405.34,109.96 v-1.98 a1.2,1.2 0 0 1 2.4,0 v1.98 Z" fill="#fff"/>
<rect x="370.6" y="85.9" width="41" height="24.8" fill="none" stroke="#f0946a" stroke-width="1.3"/>
<line x1="390.5" y1="85.9" x2="390.5" y2="110.7" stroke="#f0946a" stroke-width="1.3"/>
</g>
<rect x="600.9" y="85.5" width="47.3" height="29.3" rx="2.2" fill="#f9b500"/>
<rect x="603.9" y="88.5" width="41.3" height="23.3" fill="#b4b4ac"/>
<defs><linearGradient id="dg3" x1="0" y1="0" x2="0" y2="1"><stop offset="0" stop-color="#9a9814"/><stop offset="0.35" stop-color="#6e6a08"/><stop offset="0.7" stop-color="#4a4000"/><stop offset="1" stop-color="#2e2600"/></linearGradient></defs>
<rect x="604.2" y="88.8" width="18.9" height="22.7" fill="url(#dg3)"/>
<rect x="604.7" y="96.97" width="17.9" height="1.82" fill="#f4c468"/>
<path d="M604.77,98.56 a3.97,4.54 0 0 0 7.94,0Z" fill="#f4c468"/>
<path d="M614.59,98.56 a3.97,4.54 0 0 0 7.94,0Z" fill="#f4c468"/>
<rect x="612.33" y="94.25" width="2.65" height="16.34" fill="#f4c468"/>
<circle cx="613.65" cy="95.61" r="1.89" fill="#f4c468"/>
<rect x="606.09" y="105.14" width="4.16" height="5.45" fill="#f4c468" rx="1.5"/>
<rect x="617.05" y="105.14" width="4.16" height="5.45" fill="#f4c468" rx="1.5"/>
<defs><linearGradient id="dg4" x1="0" y1="0" x2="0" y2="1"><stop offset="0" stop-color="#9a9814"/><stop offset="0.35" stop-color="#6e6a08"/><stop offset="0.7" stop-color="#4a4000"/><stop offset="1" stop-color="#2e2600"/></linearGradient></defs>
<rect x="626.1" y="88.8" width="18.8" height="22.7" fill="url(#dg4)"/>
<path d="M635.5,90.16 l5.08,4.31 l-5.08,4.31 l-5.08,-4.31 Z" fill="#f4c468"/>
<path d="M631.74,94.47 h7.52 M635.5,91.07 v6.81" stroke="#4a3c00" stroke-width="0.7"/>
<rect x="626.7" y="91.52" width="2.44" height="19.07" fill="#f4c468"/>
<rect x="627.26" y="95.61" width="1.32" height="1.14" fill="#4a3c00"/>
<rect x="627.26" y="100.15" width="1.32" height="1.14" fill="#4a3c00"/>
<rect x="627.26" y="104.69" width="1.32" height="1.14" fill="#4a3c00"/>
<rect x="641.86" y="91.52" width="2.44" height="19.07" fill="#f4c468"/>
<rect x="642.42" y="95.61" width="1.32" height="1.14" fill="#4a3c00"/>
<rect x="642.42" y="100.15" width="1.32" height="1.14" fill="#4a3c00"/>
<rect x="642.42" y="104.69" width="1.32" height="1.14" fill="#4a3c00"/>
<rect x="634.56" y="98.79" width="1.88" height="1.82" fill="#f4c468"/>
<rect x="628.54" y="100.15" width="13.91" height="1.82" fill="#f4c468"/>
<rect x="628.54" y="102.42" width="13.91" height="3.41" fill="#f4c468"/>
<rect x="630.24" y="103.1" width="3.01" height="2.04" fill="#4a3c00"/>
<rect x="637.76" y="103.1" width="3.01" height="2.04" fill="#4a3c00"/>
<rect x="626.7" y="106.51" width="17.6" height="4.09" fill="#f4c468"/>
<path d="M628.76,110.59 v-1.82 a1.1,1.1 0 0 1 2.2,0 v1.82 Z" fill="#4a3c00"/>
<path d="M632.52,110.59 v-1.82 a1.1,1.1 0 0 1 2.2,0 v1.82 Z" fill="#4a3c00"/>
<path d="M636.28,110.59 v-1.82 a1.1,1.1 0 0 1 2.2,0 v1.82 Z" fill="#4a3c00"/>
<path d="M640.04,110.59 v-1.82 a1.1,1.1 0 0 1 2.2,0 v1.82 Z" fill="#4a3c00"/>
<g>
<rect x="16.6" y="373.5" width="40.9" height="25" fill="#fff"/>
<rect x="17.1" y="383.5" width="19.4" height="4.25" fill="#ffff5a"/>
<line x1="17.1" y1="386.88" x2="37" y2="386.88" stroke="#c9c46a" stroke-width="0.6"/>
<path d="M17.42,387.5 a3.88,4 0 0 0 7.75,0Z" fill="#ffff5a"/>
<path d="M28.43,387.5 a3.88,4 0 0 0 7.75,0Z" fill="#ffff5a"/>
<rect x="25.58" y="380.5" width="2.45" height="17.5" fill="#ffff5a"/>
<circle cx="26.8" cy="384.5" r="2.45" fill="#ffff5a" stroke="#c9c46a" stroke-width="0.6"/>
<circle cx="26.8" cy="380" r="1.22" fill="#ffff5a" stroke="#c9c46a" stroke-width="0.5"/>
<rect x="19.46" y="392.5" width="4.08" height="5.75" fill="#ffff5a" rx="1"/>
<circle cx="21.5" cy="392.5" r="1.43" fill="#ffff5a" stroke="#c9c46a" stroke-width="0.5"/>
<rect x="30.06" y="392.5" width="4.08" height="5.75" fill="#ffff5a" rx="1"/>
<circle cx="32.1" cy="392.5" r="1.43" fill="#ffff5a" stroke="#c9c46a" stroke-width="0.5"/>
<rect x="23.94" y="396" width="5.71" height="2.25" fill="#ffff5a"/>
<rect x="37.8" y="376" width="2.67" height="22" fill="#ffff5a"/>
<rect x="38.41" y="381" width="1.44" height="1.5" fill="#fff"/>
<rect x="38.41" y="386.5" width="1.44" height="1.5" fill="#fff"/>
<rect x="38.41" y="392" width="1.44" height="1.5" fill="#fff"/>
<rect x="54.04" y="376" width="2.67" height="22" fill="#ffff5a"/>
<rect x="54.65" y="381" width="1.44" height="1.5" fill="#fff"/>
<rect x="54.65" y="386.5" width="1.44" height="1.5" fill="#fff"/>
<rect x="54.65" y="392" width="1.44" height="1.5" fill="#fff"/>
<path d="M47.25,375 l5.33,5 l-5.33,5 l-5.33,-5 Z" fill="#ffff5a" stroke="#c9c46a" stroke-width="0.6"/>
<circle cx="47.25" cy="377.5" r="0.92" fill="#fff" stroke="#c9c46a" stroke-width="0.4"/>
<circle cx="45.2" cy="380" r="0.92" fill="#fff" stroke="#c9c46a" stroke-width="0.4"/>
<circle cx="49.3" cy="380" r="0.92" fill="#fff" stroke="#c9c46a" stroke-width="0.4"/>
<circle cx="47.25" cy="382.5" r="0.92" fill="#fff" stroke="#c9c46a" stroke-width="0.4"/>
<rect x="46.23" y="385" width="2.05" height="2.5" fill="#ffff5a"/>
<rect x="39.66" y="387.25" width="15.17" height="2" fill="#ffff5a" stroke="#c9c46a" stroke-width="0.4"/>
<rect x="39.66" y="390" width="15.17" height="3" fill="#ffff5a"/>
<rect x="41.1" y="390.38" width="2.46" height="2.25" fill="#fff"/>
<rect x="46.02" y="390.38" width="2.46" height="2.25" fill="#fff"/>
<rect x="50.94" y="390.38" width="2.46" height="2.25" fill="#fff"/>
<rect x="37.8" y="393.5" width="18.9" height="4.75" fill="#ffff5a"/>
<path d="M40.31,397.75 v-2 a1.2,1.2 0 0 1 2.4,0 v2 Z" fill="#fff"/>
<path d="M44,397.75 v-2 a1.2,1.2 0 0 1 2.4,0 v2 Z" fill="#fff"/>
<path d="M47.69,397.75 v-2 a1.2,1.2 0 0 1 2.4,0 v2 Z" fill="#fff"/>
<path d="M51.38,397.75 v-2 a1.2,1.2 0 0 1 2.4,0 v2 Z" fill="#fff"/>
<rect x="16.6" y="373.5" width="40.9" height="25" fill="none" stroke="#f0946a" stroke-width="1.3"/>
<line x1="37" y1="373.5" x2="37" y2="398.5" stroke="#f0946a" stroke-width="1.3"/>
</g>
<defs><linearGradient id="dg5" x1="0" y1="0" x2="0" y2="1"><stop offset="0" stop-color="#9a9814"/><stop offset="0.35" stop-color="#6e6a08"/><stop offset="0.7" stop-color="#4a4000"/><stop offset="1" stop-color="#2e2600"/></linearGradient></defs>
<rect x="236.4" y="373.6" width="18.8" height="23.6" fill="url(#dg5)"/>
<rect x="236.9" y="382.1" width="17.8" height="1.89" fill="#f4c468"/>
<path d="M236.96,383.75 a3.95,4.72 0 0 0 7.9,0Z" fill="#f4c468"/>
<path d="M246.74,383.75 a3.95,4.72 0 0 0 7.9,0Z" fill="#f4c468"/>
<rect x="244.48" y="379.26" width="2.63" height="16.99" fill="#f4c468"/>
<circle cx="245.8" cy="380.68" r="1.88" fill="#f4c468"/>
<rect x="238.28" y="390.59" width="4.14" height="5.66" fill="#f4c468" rx="1.5"/>
<rect x="249.18" y="390.59" width="4.14" height="5.66" fill="#f4c468" rx="1.5"/>
<defs><linearGradient id="dg6" x1="0" y1="0" x2="0" y2="1"><stop offset="0" stop-color="#a8a418"/><stop offset="0.35" stop-color="#8a7a08"/><stop offset="0.7" stop-color="#6a5400"/><stop offset="1" stop-color="#4a3a00"/></linearGradient></defs>
<rect x="258.7" y="373.6" width="18.8" height="23.6" fill="url(#dg6)"/>
<path d="M268.1,375.02 l5.08,4.48 l-5.08,4.48 l-5.08,-4.48 Z" fill="#f4c468"/>
<path d="M264.34,379.5 h7.52 M268.1,375.96 v7.08" stroke="#4a3c00" stroke-width="0.7"/>
<rect x="259.3" y="376.43" width="2.44" height="19.82" fill="#f4c468"/>
<rect x="259.86" y="380.68" width="1.32" height="1.18" fill="#4a3c00"/>
<rect x="259.86" y="385.4" width="1.32" height="1.18" fill="#4a3c00"/>
<rect x="259.86" y="390.12" width="1.32" height="1.18" fill="#4a3c00"/>
<rect x="274.46" y="376.43" width="2.44" height="19.82" fill="#f4c468"/>
<rect x="275.02" y="380.68" width="1.32" height="1.18" fill="#4a3c00"/>
<rect x="275.02" y="385.4" width="1.32" height="1.18" fill="#4a3c00"/>
<rect x="275.02" y="390.12" width="1.32" height="1.18" fill="#4a3c00"/>
<rect x="267.16" y="383.98" width="1.88" height="1.89" fill="#f4c468"/>
<rect x="261.14" y="385.4" width="13.91" height="1.89" fill="#f4c468"/>
<rect x="261.14" y="387.76" width="13.91" height="3.54" fill="#f4c468"/>
<rect x="262.84" y="388.47" width="3.01" height="2.12" fill="#4a3c00"/>
<rect x="270.36" y="388.47" width="3.01" height="2.12" fill="#4a3c00"/>
<rect x="259.3" y="392.01" width="17.6" height="4.25" fill="#f4c468"/>
<path d="M261.36,396.26 v-1.89 a1.1,1.1 0 0 1 2.2,0 v1.89 Z" fill="#4a3c00"/>
<path d="M265.12,396.26 v-1.89 a1.1,1.1 0 0 1 2.2,0 v1.89 Z" fill="#4a3c00"/>
<path d="M268.88,396.26 v-1.89 a1.1,1.1 0 0 1 2.2,0 v1.89 Z" fill="#4a3c00"/>
<path d="M272.64,396.26 v-1.89 a1.1,1.1 0 0 1 2.2,0 v1.89 Z" fill="#4a3c00"/>
<g>
<rect x="380.5" y="352.5" width="41.2" height="25.2" fill="#fff"/>
<rect x="381" y="362.58" width="18.7" height="4.28" fill="#ffff5a"/>
<line x1="381" y1="365.98" x2="400.2" y2="365.98" stroke="#c9c46a" stroke-width="0.6"/>
<path d="M381.29,366.61 a3.74,4.03 0 0 0 7.49,0Z" fill="#ffff5a"/>
<path d="M391.93,366.61 a3.74,4.03 0 0 0 7.49,0Z" fill="#ffff5a"/>
<rect x="389.17" y="359.56" width="2.36" height="17.64" fill="#ffff5a"/>
<circle cx="390.35" cy="363.59" r="2.36" fill="#ffff5a" stroke="#c9c46a" stroke-width="0.6"/>
<circle cx="390.35" cy="359.05" r="1.18" fill="#ffff5a" stroke="#c9c46a" stroke-width="0.5"/>
<rect x="383.26" y="371.65" width="3.94" height="5.8" fill="#ffff5a" rx="1"/>
<circle cx="385.23" cy="371.65" r="1.38" fill="#ffff5a" stroke="#c9c46a" stroke-width="0.5"/>
<rect x="393.5" y="371.65" width="3.94" height="5.8" fill="#ffff5a" rx="1"/>
<circle cx="395.47" cy="371.65" r="1.38" fill="#ffff5a" stroke="#c9c46a" stroke-width="0.5"/>
<rect x="387.59" y="375.18" width="5.52" height="2.27" fill="#ffff5a"/>
<rect x="401" y="355.02" width="2.79" height="22.18" fill="#ffff5a"/>
<rect x="401.64" y="360.06" width="1.51" height="1.51" fill="#fff"/>
<rect x="401.64" y="365.6" width="1.51" height="1.51" fill="#fff"/>
<rect x="401.64" y="371.15" width="1.51" height="1.51" fill="#fff"/>
<rect x="418.1" y="355.02" width="2.79" height="22.18" fill="#ffff5a"/>
<rect x="418.75" y="360.06" width="1.51" height="1.51" fill="#fff"/>
<rect x="418.75" y="365.6" width="1.51" height="1.51" fill="#fff"/>
<rect x="418.75" y="371.15" width="1.51" height="1.51" fill="#fff"/>
<path d="M410.95,354.01 l5.59,5.04 l-5.59,5.04 l-5.59,-5.04 Z" fill="#ffff5a" stroke="#c9c46a" stroke-width="0.6"/>
<circle cx="410.95" cy="356.53" r="0.97" fill="#fff" stroke="#c9c46a" stroke-width="0.4"/>
<circle cx="408.8" cy="359.05" r="0.97" fill="#fff" stroke="#c9c46a" stroke-width="0.4"/>
<circle cx="413.1" cy="359.05" r="0.97" fill="#fff" stroke="#c9c46a" stroke-width="0.4"/>
<circle cx="410.95" cy="361.57" r="0.97" fill="#fff" stroke="#c9c46a" stroke-width="0.4"/>
<rect x="409.88" y="364.09" width="2.15" height="2.52" fill="#ffff5a"/>
<rect x="403" y="366.36" width="15.91" height="2.02" fill="#ffff5a" stroke="#c9c46a" stroke-width="0.4"/>
<rect x="403" y="369.13" width="15.91" height="3.02" fill="#ffff5a"/>
<rect x="404.5" y="369.51" width="2.58" height="2.27" fill="#fff"/>
<rect x="409.66" y="369.51" width="2.58" height="2.27" fill="#fff"/>
<rect x="414.82" y="369.51" width="2.58" height="2.27" fill="#fff"/>
<rect x="401" y="372.66" width="19.9" height="4.79" fill="#ffff5a"/>
<path d="M403.73,376.94 v-2.02 a1.2,1.2 0 0 1 2.4,0 v2.02 Z" fill="#fff"/>
<path d="M407.6,376.94 v-2.02 a1.2,1.2 0 0 1 2.4,0 v2.02 Z" fill="#fff"/>
<path d="M411.47,376.94 v-2.02 a1.2,1.2 0 0 1 2.4,0 v2.02 Z" fill="#fff"/>
<path d="M415.34,376.94 v-2.02 a1.2,1.2 0 0 1 2.4,0 v2.02 Z" fill="#fff"/>
<rect x="380.5" y="352.5" width="41.2" height="25.2" fill="none" stroke="#f0946a" stroke-width="1.3"/>
<line x1="400.2" y1="352.5" x2="400.2" y2="377.7" stroke="#f0946a" stroke-width="1.3"/>
</g>
<defs><linearGradient id="dg7" x1="0" y1="0" x2="0" y2="1"><stop offset="0" stop-color="#9a9814"/><stop offset="0.35" stop-color="#6e6a08"/><stop offset="0.7" stop-color="#4a4000"/><stop offset="1" stop-color="#2e2600"/></linearGradient></defs>
<rect x="600.5" y="353" width="18.8" height="23.2" fill="url(#dg7)"/>
<rect x="601" y="361.35" width="17.8" height="1.86" fill="#f4c468"/>
<path d="M601.06,362.98 a3.95,4.64 0 0 0 7.9,0Z" fill="#f4c468"/>
<path d="M610.84,362.98 a3.95,4.64 0 0 0 7.9,0Z" fill="#f4c468"/>
<rect x="608.58" y="358.57" width="2.63" height="16.7" fill="#f4c468"/>
<circle cx="609.9" cy="359.96" r="1.88" fill="#f4c468"/>
<rect x="602.38" y="369.7" width="4.14" height="5.57" fill="#f4c468" rx="1.5"/>
<rect x="613.28" y="369.7" width="4.14" height="5.57" fill="#f4c468" rx="1.5"/>
<defs><linearGradient id="dg8" x1="0" y1="0" x2="0" y2="1"><stop offset="0" stop-color="#a8a418"/><stop offset="0.35" stop-color="#8a7a08"/><stop offset="0.7" stop-color="#6a5400"/><stop offset="1" stop-color="#4a3a00"/></linearGradient></defs>
<rect x="622.2" y="353" width="19" height="23.2" fill="url(#dg8)"/>
<path d="M631.7,354.39 l5.13,4.41 l-5.13,4.41 l-5.13,-4.41 Z" fill="#f4c468"/>
<path d="M627.9,358.8 h7.6 M631.7,355.32 v6.96" stroke="#4a3c00" stroke-width="0.7"/>
<rect x="622.8" y="355.78" width="2.47" height="19.49" fill="#f4c468"/>
<rect x="623.37" y="359.96" width="1.33" height="1.16" fill="#4a3c00"/>
<rect x="623.37" y="364.6" width="1.33" height="1.16" fill="#4a3c00"/>
<rect x="623.37" y="369.24" width="1.33" height="1.16" fill="#4a3c00"/>
<rect x="638.13" y="355.78" width="2.47" height="19.49" fill="#f4c468"/>
<rect x="638.7" y="359.96" width="1.33" height="1.16" fill="#4a3c00"/>
<rect x="638.7" y="364.6" width="1.33" height="1.16" fill="#4a3c00"/>
<rect x="638.7" y="369.24" width="1.33" height="1.16" fill="#4a3c00"/>
<rect x="630.75" y="363.21" width="1.9" height="1.86" fill="#f4c468"/>
<rect x="624.67" y="364.6" width="14.06" height="1.86" fill="#f4c468"/>
<rect x="624.67" y="366.92" width="14.06" height="3.48" fill="#f4c468"/>
<rect x="626.38" y="367.62" width="3.04" height="2.09" fill="#4a3c00"/>
<rect x="633.98" y="367.62" width="3.04" height="2.09" fill="#4a3c00"/>
<rect x="622.8" y="371.1" width="17.8" height="4.18" fill="#f4c468"/>
<path d="M624.9,375.27 v-1.86 a1.1,1.1 0 0 1 2.2,0 v1.86 Z" fill="#4a3c00"/>
<path d="M628.7,375.27 v-1.86 a1.1,1.1 0 0 1 2.2,0 v1.86 Z" fill="#4a3c00"/>
<path d="M632.5,375.27 v-1.86 a1.1,1.1 0 0 1 2.2,0 v1.86 Z" fill="#4a3c00"/>
<path d="M636.3,375.27 v-1.86 a1.1,1.1 0 0 1 2.2,0 v1.86 Z" fill="#4a3c00"/>
<text x="145" y="22.03" text-anchor="middle" font-size="16">0</text>
<text x="200.5" y="38.23" text-anchor="middle" font-size="16">30</text>
<text x="245.2" y="81.63" text-anchor="middle" font-size="16">60</text>
<text x="261.4" y="141.03" text-anchor="middle" font-size="16">90</text>
<text x="250" y="200.33" text-anchor="middle" font-size="16">120</text>
<text x="205.3" y="243.93" text-anchor="middle" font-size="16">150</text>
<text x="145" y="259.03" text-anchor="middle" font-size="16">180</text>
<text x="83" y="243.93" text-anchor="middle" font-size="16">210</text>
<text x="38.5" y="200.23" text-anchor="middle" font-size="16">240</text>
<text x="23.2" y="140.83" text-anchor="middle" font-size="16">270</text>
<text x="38.7" y="81.73" text-anchor="middle" font-size="16">300</text>
<text x="83.2" y="38.03" text-anchor="middle" font-size="16">330</text>
<text x="509.7" y="19.83" text-anchor="middle" font-size="15">0</text>
<text x="564.91" y="36.17" text-anchor="middle" font-size="15">30</text>
<text x="609.34" y="79.39" text-anchor="middle" font-size="15">60</text>
<text x="625.56" y="138.47" text-anchor="middle" font-size="15">90</text>
<text x="613.94" y="197.33" text-anchor="middle" font-size="15">120</text>
<text x="569.64" y="240.75" text-anchor="middle" font-size="15">150</text>
<text x="509.7" y="256.11" text-anchor="middle" font-size="15">180</text>
<text x="448.06" y="240.75" text-anchor="middle" font-size="15">210</text>
<text x="403.96" y="197.23" text-anchor="middle" font-size="15">240</text>
<text x="388.71" y="138.27" text-anchor="middle" font-size="15">270</text>
<text x="404.16" y="79.61" text-anchor="middle" font-size="15">300</text>
<text x="448.26" y="36.09" text-anchor="middle" font-size="15">330</text>
<text x="148.5" y="304.83" text-anchor="middle" font-size="16">0</text>
<text x="204" y="321.03" text-anchor="middle" font-size="16">30</text>
<text x="248.7" y="364.43" text-anchor="middle" font-size="16">60</text>
<text x="264.9" y="423.83" text-anchor="middle" font-size="16">90</text>
<text x="253.5" y="483.13" text-anchor="middle" font-size="16">120</text>
<text x="208.8" y="526.73" text-anchor="middle" font-size="16">150</text>
<text x="148.5" y="541.83" text-anchor="middle" font-size="16">180</text>
<text x="86.5" y="526.73" text-anchor="middle" font-size="16">210</text>
<text x="42" y="483.03" text-anchor="middle" font-size="16">240</text>
<text x="26.7" y="423.63" text-anchor="middle" font-size="16">270</text>
<text x="42.2" y="364.53" text-anchor="middle" font-size="16">300</text>
<text x="86.7" y="320.83" text-anchor="middle" font-size="16">330</text>
<text x="572.5" y="304.33" text-anchor="middle" font-size="16">30</text>
<text x="617.2" y="347.73" text-anchor="middle" font-size="16">60</text>
<text x="633.4" y="407.13" text-anchor="middle" font-size="16">90</text>
<text x="622" y="466.43" text-anchor="middle" font-size="16">120</text>
<text x="577.3" y="510.03" text-anchor="middle" font-size="16">150</text>
<text x="517" y="525.13" text-anchor="middle" font-size="16">180</text>
<text x="455" y="510.03" text-anchor="middle" font-size="16">210</text>
<text x="410.5" y="466.33" text-anchor="middle" font-size="16">240</text>
<text x="395.2" y="406.93" text-anchor="middle" font-size="16">270</text>
<text x="410.7" y="347.83" text-anchor="middle" font-size="16">300</text>
<text x="455.2" y="304.13" text-anchor="middle" font-size="16">330</text>
<text x="517" y="288.13" text-anchor="middle" font-size="16">0</text>
<rect x="505" y="270" width="25" height="9" fill="#fff"/>
<line x1="364.5" y1="30.3" x2="364.5" y2="237" stroke="#888" stroke-width="1"/>
<line x1="360.5" y1="30.3" x2="364.5" y2="30.3" stroke="#888" stroke-width="1"/>
<line x1="362.3" y1="40.63" x2="364.5" y2="40.63" stroke="#888" stroke-width="1"/>
<text x="357.5" y="35.85" text-anchor="end" font-size="15.5">10</text>
<line x1="360.5" y1="50.97" x2="364.5" y2="50.97" stroke="#888" stroke-width="1"/>
<line x1="362.3" y1="61.3" x2="364.5" y2="61.3" stroke="#888" stroke-width="1"/>
<text x="357.5" y="56.52" text-anchor="end" font-size="15.5">0</text>
<line x1="360.5" y1="71.64" x2="364.5" y2="71.64" stroke="#888" stroke-width="1"/>
<line x1="362.3" y1="81.97" x2="364.5" y2="81.97" stroke="#888" stroke-width="1"/>
<text x="357.5" y="77.19" text-anchor="end" font-size="15.5">-10</text>
<line x1="360.5" y1="92.31" x2="364.5" y2="92.31" stroke="#888" stroke-width="1"/>
<line x1="362.3" y1="102.64" x2="364.5" y2="102.64" stroke="#888" stroke-width="1"/>
<text x="357.5" y="97.86" text-anchor="end" font-size="15.5">-20</text>
<line x1="360.5" y1="112.98" x2="364.5" y2="112.98" stroke="#888" stroke-width="1"/>
<line x1="362.3" y1="123.31" x2="364.5" y2="123.31" stroke="#888" stroke-width="1"/>
<text x="357.5" y="118.53" text-anchor="end" font-size="15.5">-30</text>
<line x1="360.5" y1="133.65" x2="364.5" y2="133.65" stroke="#888" stroke-width="1"/>
<line x1="362.3" y1="143.99" x2="364.5" y2="143.99" stroke="#888" stroke-width="1"/>
<text x="357.5" y="139.2" text-anchor="end" font-size="15.5">-40</text>
<line x1="360.5" y1="154.32" x2="364.5" y2="154.32" stroke="#888" stroke-width="1"/>
<line x1="362.3" y1="164.66" x2="364.5" y2="164.66" stroke="#888" stroke-width="1"/>
<text x="357.5" y="159.87" text-anchor="end" font-size="15.5">-30</text>
<line x1="360.5" y1="174.99" x2="364.5" y2="174.99" stroke="#888" stroke-width="1"/>
<line x1="362.3" y1="185.33" x2="364.5" y2="185.33" stroke="#888" stroke-width="1"/>
<text x="357.5" y="180.54" text-anchor="end" font-size="15.5">-20</text>
<line x1="360.5" y1="195.66" x2="364.5" y2="195.66" stroke="#888" stroke-width="1"/>
<line x1="362.3" y1="206" x2="364.5" y2="206" stroke="#888" stroke-width="1"/>
<text x="357.5" y="201.21" text-anchor="end" font-size="15.5">-10</text>
<line x1="360.5" y1="216.33" x2="364.5" y2="216.33" stroke="#888" stroke-width="1"/>
<line x1="362.3" y1="226.66" x2="364.5" y2="226.66" stroke="#888" stroke-width="1"/>
<text x="357.5" y="221.88" text-anchor="end" font-size="15.5">0</text>
<line x1="360.5" y1="237" x2="364.5" y2="237" stroke="#888" stroke-width="1"/>
<text x="357.5" y="242.55" text-anchor="end" font-size="15.5">10</text>
<line x1="326" y1="6.6" x2="346.6" y2="6.6" stroke="#ff8000" stroke-width="2.2"/>
<text x="349" y="9.9" font-size="11.15" fill="#1a1a1a">Simulated H-plane (Co-Pol.)</text>
<line x1="499" y1="5.5" x2="519.2" y2="5.5" stroke="#8a0000" stroke-width="2.2"/>
<text x="522" y="8.1" font-size="11.2" fill="#1a1a1a">Simulated H-plane (Cross-Pol.)</text>
<line x1="325.5" y1="268.1" x2="347" y2="268.1" stroke="#ff8000" stroke-width="1.8"/>
<polygon points="336,264.9 336.81,266.99 339.04,267.11 337.31,268.53 337.88,270.69 336,269.48 334.12,270.69 334.69,268.53 332.96,267.11 335.19,266.99" fill="#fff" stroke="#ff8000" stroke-width="1"/>
<text x="350" y="271.3" font-size="11.15" fill="#1a1a1a">Measured H-plane (Co-pol.)</text>
<line x1="500.8" y1="267.8" x2="519.9" y2="267.8" stroke="#8a0000" stroke-width="1.8"/>
<circle cx="510.5" cy="267.8" r="2.2" fill="#fff" stroke="#8a0000" stroke-width="0.9"/>
<text x="523" y="271.5" font-size="11.1" fill="#1a1a1a">Measured H-plane (Cross-pol.)</text>
<text x="297.6" y="251.5" text-anchor="middle" font-family='"Liberation Serif", serif' font-size="39" fill="#ff0000">(A)</text>
<text x="656.2" y="248.9" text-anchor="middle" font-family='"Liberation Serif", serif' font-size="39" fill="#ff0000">(B)</text>
<text x="299.2" y="524.2" text-anchor="middle" font-family='"Liberation Serif", serif' font-size="39" fill="#ff0000">(C)</text>
<text x="656" y="525.7" text-anchor="middle" font-family='"Liberation Serif", serif' font-size="39" fill="#ff0000">(D)</text>
</svg></body></html>
